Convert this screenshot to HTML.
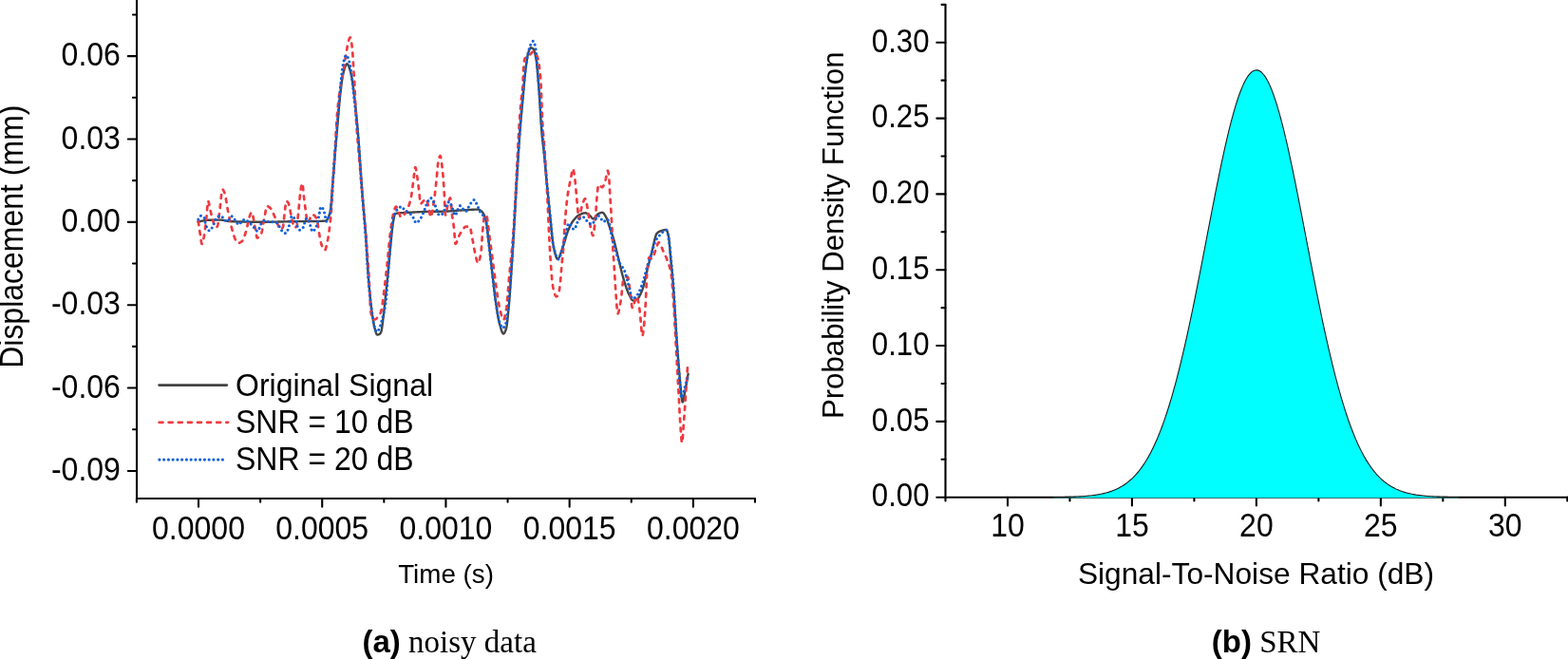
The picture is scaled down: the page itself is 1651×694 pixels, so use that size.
<!DOCTYPE html>
<html><head><meta charset="utf-8"><title>Figure</title>
<style>html,body{margin:0;padding:0;background:#fff;width:1651px;height:694px;overflow:hidden}svg{display:block}</style>
</head><body>
<svg width="1651" height="694" viewBox="0 0 1651 694">
<rect width="1651" height="694" fill="#fff"/>
<path d="M144.0 0 V525.0 M144.0 525.0 H795" stroke="#000" stroke-width="2.1" fill="none"/>
<path d="M134.8 59.13 H144.0 M134.8 146.49 H144.0 M134.8 233.85 H144.0 M134.8 321.21 H144.0 M134.8 408.57 H144.0 M134.8 495.93 H144.0 M140.0 15.45 H144.0 M140.0 102.81 H144.0 M140.0 190.17 H144.0 M140.0 277.53 H144.0 M140.0 364.89 H144.0 M140.0 452.25 H144.0 M209.00 525.0 V533.8 M339.22 525.0 V533.8 M469.44 525.0 V533.8 M599.66 525.0 V533.8 M729.88 525.0 V533.8 M143.89 525.0 V528.7 M274.11 525.0 V528.7 M404.33 525.0 V528.7 M534.55 525.0 V528.7 M664.77 525.0 V528.7 M794.99 525.0 V528.7" stroke="#000" stroke-width="2.1" fill="none" stroke-linecap="round"/>
<text transform="translate(126.90 69.38) scale(1 1.09)" text-anchor="end" style="font-family:'Liberation Sans',Arial,Helvetica,sans-serif;font-size:32px">0.06</text>
<text transform="translate(126.90 156.74) scale(1 1.09)" text-anchor="end" style="font-family:'Liberation Sans',Arial,Helvetica,sans-serif;font-size:32px">0.03</text>
<text transform="translate(126.90 244.10) scale(1 1.09)" text-anchor="end" style="font-family:'Liberation Sans',Arial,Helvetica,sans-serif;font-size:32px">0.00</text>
<text transform="translate(126.90 331.46) scale(1 1.09)" text-anchor="end" style="font-family:'Liberation Sans',Arial,Helvetica,sans-serif;font-size:32px">-0.03</text>
<text transform="translate(126.90 418.82) scale(1 1.09)" text-anchor="end" style="font-family:'Liberation Sans',Arial,Helvetica,sans-serif;font-size:32px">-0.06</text>
<text transform="translate(126.90 506.18) scale(1 1.09)" text-anchor="end" style="font-family:'Liberation Sans',Arial,Helvetica,sans-serif;font-size:32px">-0.09</text>
<text transform="translate(209.00 567.80) scale(1 1.09)" text-anchor="middle" style="font-family:'Liberation Sans',Arial,Helvetica,sans-serif;font-size:32px">0.0000</text>
<text transform="translate(339.22 567.80) scale(1 1.09)" text-anchor="middle" style="font-family:'Liberation Sans',Arial,Helvetica,sans-serif;font-size:32px">0.0005</text>
<text transform="translate(469.44 567.80) scale(1 1.09)" text-anchor="middle" style="font-family:'Liberation Sans',Arial,Helvetica,sans-serif;font-size:32px">0.0010</text>
<text transform="translate(599.66 567.80) scale(1 1.09)" text-anchor="middle" style="font-family:'Liberation Sans',Arial,Helvetica,sans-serif;font-size:32px">0.0015</text>
<text transform="translate(729.88 567.80) scale(1 1.09)" text-anchor="middle" style="font-family:'Liberation Sans',Arial,Helvetica,sans-serif;font-size:32px">0.0020</text>
<text transform="translate(24.30 249.20) rotate(-90) scale(1 1.07)" text-anchor="middle" style="font-family:'Liberation Sans',Arial,Helvetica,sans-serif;font-size:32px">Displacement (mm)</text>
<text transform="translate(469.60 613.90) scale(1 1.02)" text-anchor="middle" style="font-family:'Liberation Sans',Arial,Helvetica,sans-serif;font-size:27.8px">Time (s)</text>
<path d="M208.40 233.60L208.75 233.52L209.10 233.44L209.45 233.36L209.80 233.29L210.15 233.21L210.50 233.13L210.85 233.06L211.20 232.98L211.55 232.91L211.90 232.84L212.25 232.77L212.60 232.70L212.95 232.63L213.30 232.57L213.65 232.50L214.00 232.44L214.35 232.38L214.70 232.32L215.05 232.26L215.40 232.21L215.75 232.16L216.10 232.11L216.45 232.06L216.80 232.01L217.15 231.97L217.50 231.93L217.85 231.89L218.20 231.86L218.55 231.83L218.90 231.80L219.25 231.77L219.60 231.75L219.95 231.73L220.30 231.72L220.65 231.71L221.00 231.70L221.35 231.69L221.70 231.69L222.05 231.68L222.40 231.68L222.75 231.67L223.10 231.67L223.45 231.66L223.80 231.66L224.15 231.65L224.50 231.65L224.85 231.64L225.20 231.64L225.55 231.64L225.90 231.63L226.25 231.63L226.60 231.63L226.95 231.62L227.30 231.62L227.65 231.62L228.00 231.61L228.35 231.61L228.70 231.61L229.05 231.61L229.40 231.61L229.75 231.60L230.10 231.60L230.45 231.60L230.80 231.60L231.15 231.60L231.50 231.60L231.85 231.60L232.20 231.60L232.55 231.61L232.90 231.63L233.25 231.65L233.60 231.68L233.95 231.72L234.30 231.77L234.65 231.82L235.00 231.87L235.35 231.93L235.70 231.99L236.05 232.06L236.40 232.12L236.75 232.19L237.10 232.26L237.45 232.34L237.80 232.41L238.15 232.48L238.50 232.56L238.85 232.63L239.20 232.70L239.55 232.76L239.90 232.83L240.25 232.89L240.60 232.95L240.95 233.00L241.30 233.05L241.65 233.09L242.00 233.13L242.35 233.16L242.70 233.19L243.05 233.20L243.40 233.22L243.75 233.23L244.10 233.24L244.45 233.25L244.80 233.27L245.15 233.28L245.50 233.29L245.85 233.30L246.20 233.32L246.55 233.33L246.90 233.34L247.25 233.35L247.60 233.36L247.95 233.37L248.30 233.38L248.65 233.40L249.00 233.41L249.35 233.42L249.70 233.43L250.05 233.44L250.40 233.45L250.75 233.46L251.10 233.47L251.45 233.48L251.80 233.49L252.15 233.50L252.50 233.51L252.85 233.51L253.20 233.52L253.55 233.53L253.90 233.54L254.25 233.55L254.60 233.56L254.95 233.57L255.30 233.57L255.65 233.58L256.00 233.59L256.35 233.60L256.70 233.61L257.05 233.61L257.40 233.62L257.75 233.63L258.10 233.63L258.45 233.64L258.80 233.65L259.15 233.65L259.50 233.66L259.85 233.67L260.20 233.67L260.55 233.68L260.90 233.69L261.25 233.69L261.60 233.70L261.95 233.70L262.30 233.71L262.65 233.71L263.00 233.72L263.35 233.72L263.70 233.73L264.05 233.73L264.40 233.74L264.75 233.74L265.10 233.74L265.45 233.75L265.80 233.75L266.15 233.75L266.50 233.76L266.85 233.76L267.20 233.77L267.55 233.77L267.90 233.77L268.25 233.77L268.60 233.78L268.95 233.78L269.30 233.78L269.65 233.78L270.00 233.79L270.35 233.79L270.70 233.79L271.05 233.79L271.40 233.79L271.75 233.79L272.10 233.80L272.45 233.80L272.80 233.80L273.15 233.80L273.50 233.80L273.85 233.80L274.20 233.80L274.55 233.80L274.90 233.80L275.25 233.80L275.60 233.80L275.95 233.80L276.30 233.80L276.65 233.80L277.00 233.80L277.35 233.79L277.70 233.79L278.05 233.79L278.40 233.79L278.75 233.79L279.10 233.78L279.45 233.78L279.80 233.78L280.15 233.77L280.50 233.77L280.85 233.77L281.20 233.76L281.55 233.76L281.90 233.76L282.25 233.75L282.60 233.75L282.95 233.74L283.30 233.74L283.65 233.73L284.00 233.73L284.35 233.72L284.70 233.72L285.05 233.71L285.40 233.71L285.75 233.70L286.10 233.69L286.45 233.69L286.80 233.68L287.15 233.67L287.50 233.67L287.85 233.66L288.20 233.65L288.55 233.65L288.90 233.64L289.25 233.63L289.60 233.63L289.95 233.62L290.30 233.61L290.65 233.61L291.00 233.60L291.35 233.59L291.70 233.58L292.05 233.58L292.40 233.57L292.75 233.56L293.10 233.55L293.45 233.54L293.80 233.54L294.15 233.53L294.50 233.52L294.85 233.51L295.20 233.50L295.55 233.50L295.90 233.49L296.25 233.48L296.60 233.47L296.95 233.46L297.30 233.46L297.65 233.45L298.00 233.44L298.35 233.43L298.70 233.42L299.05 233.42L299.40 233.41L299.75 233.40L300.10 233.39L300.45 233.39L300.80 233.38L301.15 233.37L301.50 233.36L301.85 233.35L302.20 233.35L302.55 233.34L302.90 233.33L303.25 233.32L303.60 233.32L303.95 233.31L304.30 233.30L304.65 233.30L305.00 233.29L305.35 233.28L305.70 233.27L306.05 233.27L306.40 233.26L306.75 233.25L307.10 233.25L307.45 233.24L307.80 233.24L308.15 233.23L308.50 233.22L308.85 233.22L309.20 233.21L309.55 233.21L309.90 233.20L310.25 233.20L310.60 233.19L310.95 233.19L311.30 233.18L311.65 233.18L312.00 233.17L312.35 233.17L312.70 233.16L313.05 233.16L313.40 233.16L313.75 233.15L314.10 233.15L314.45 233.15L314.80 233.14L315.15 233.14L315.50 233.14L315.85 233.13L316.20 233.13L316.55 233.13L316.90 233.12L317.25 233.12L317.60 233.12L317.95 233.12L318.30 233.11L318.65 233.11L319.00 233.11L319.35 233.11L319.70 233.10L320.05 233.10L320.40 233.10L320.75 233.10L321.10 233.09L321.45 233.09L321.80 233.09L322.15 233.09L322.50 233.08L322.85 233.08L323.20 233.08L323.55 233.08L323.90 233.07L324.25 233.07L324.60 233.07L324.95 233.06L325.30 233.06L325.65 233.06L326.00 233.06L326.35 233.05L326.70 233.05L327.05 233.05L327.40 233.04L327.75 233.04L328.10 233.03L328.45 233.03L328.80 233.03L329.15 233.02L329.50 233.02L329.85 233.01L330.20 233.01L330.55 233.01L330.90 233.00L331.25 233.00L331.60 232.99L331.95 232.99L332.30 232.98L332.65 232.97L333.00 232.97L333.35 232.96L333.70 232.96L334.05 232.95L334.40 232.94L334.75 232.94L335.10 232.93L335.45 232.92L335.80 232.91L336.15 232.91L336.50 232.90L336.85 232.89L337.20 232.88L337.55 232.87L337.90 232.86L338.25 232.85L338.60 232.84L338.95 232.83L339.30 232.82L339.65 232.81L340.00 232.80L340.35 232.78L340.70 232.76L341.05 232.73L341.40 232.68L341.75 232.63L342.10 232.56L342.45 232.49L342.80 232.40L343.15 232.31L343.50 232.20L343.85 232.01L344.20 231.69L344.55 231.24L344.90 230.70L345.25 230.08L345.60 229.40L345.95 228.68L346.30 227.79L346.65 226.71L347.00 225.43L347.35 223.95L347.70 222.24L348.05 220.30L348.40 217.53L348.75 213.80L349.10 209.36L349.45 204.50L349.80 199.47L350.15 194.55L350.50 190.00L350.85 185.73L351.20 181.44L351.55 177.16L351.90 172.89L352.25 168.63L352.60 164.40L352.95 160.19L353.30 156.02L353.65 151.87L354.00 147.74L354.35 143.63L354.70 139.54L355.05 135.48L355.40 131.44L355.75 127.43L356.10 123.32L356.45 119.11L356.80 114.89L357.15 110.76L357.50 106.80L357.85 103.11L358.20 99.78L358.55 96.77L358.90 93.83L359.25 90.98L359.60 88.25L359.95 85.67L360.30 83.29L360.65 81.12L361.00 79.21L361.35 77.60L361.70 76.25L362.05 74.93L362.40 73.65L362.75 72.42L363.10 71.27L363.45 70.22L363.80 69.29L364.15 68.51L364.50 67.91L364.85 67.50L365.20 67.31L365.55 67.35L365.90 67.60L366.25 68.02L366.60 68.60L366.95 69.32L367.30 70.16L367.65 71.10L368.00 72.13L368.35 73.21L368.70 74.35L369.05 75.50L369.40 76.71L369.75 78.18L370.10 79.91L370.45 81.87L370.80 84.03L371.15 86.37L371.50 88.86L371.85 91.47L372.20 94.18L372.55 96.95L372.90 99.77L373.25 102.60L373.60 105.49L373.95 108.57L374.30 111.82L374.65 115.23L375.00 118.79L375.35 122.47L375.70 126.27L376.05 130.18L376.40 134.17L376.75 138.24L377.10 142.40L377.45 146.83L377.80 151.48L378.15 156.33L378.50 161.32L378.85 166.42L379.20 171.57L379.55 176.74L379.90 181.89L380.25 186.95L380.60 191.91L380.95 196.70L381.30 201.29L381.65 205.69L382.00 209.94L382.35 214.08L382.70 218.16L383.05 222.22L383.40 226.30L383.75 230.44L384.10 234.69L384.45 239.08L384.80 243.65L385.15 248.51L385.50 253.78L385.85 259.36L386.20 265.12L386.55 270.97L386.90 276.78L387.25 282.44L387.60 287.84L387.95 292.87L388.30 297.41L388.65 301.47L389.00 305.35L389.35 309.06L389.70 312.60L390.05 315.97L390.40 319.15L390.75 322.16L391.10 324.99L391.45 327.64L391.80 330.15L392.15 332.59L392.50 334.95L392.85 337.20L393.20 339.30L393.55 341.25L393.90 343.00L394.25 344.54L394.60 345.86L394.95 347.13L395.30 348.39L395.65 349.58L396.00 350.64L396.35 351.51L396.70 352.14L397.05 352.47L397.40 352.50L397.75 352.47L398.10 352.41L398.45 352.34L398.80 352.24L399.15 352.13L399.50 352.00L399.85 351.79L400.20 351.43L400.55 350.94L400.90 350.33L401.25 349.61L401.60 348.53L401.95 346.76L402.30 344.47L402.65 341.82L403.00 338.99L403.35 336.17L403.70 333.42L404.05 330.48L404.40 327.33L404.75 324.05L405.10 320.68L405.45 317.27L405.80 313.90L406.15 310.59L406.50 307.30L406.85 304.01L407.20 300.69L407.55 297.35L407.90 293.96L408.25 290.51L408.60 287.00L408.95 283.37L409.30 279.62L409.65 275.79L410.00 271.93L410.35 268.07L410.70 264.27L411.05 260.56L411.40 256.98L411.75 253.31L412.10 249.57L412.45 245.92L412.80 242.52L413.15 239.49L413.50 237.00L413.85 234.81L414.20 232.64L414.55 230.58L414.90 228.73L415.25 227.18L415.60 226.01L415.95 225.32L416.30 225.11L416.65 224.98L417.00 224.86L417.35 224.77L417.70 224.69L418.05 224.63L418.40 224.57L418.75 224.53L419.10 224.49L419.45 224.45L419.80 224.41L420.15 224.38L420.50 224.35L420.85 224.32L421.20 224.29L421.55 224.26L421.90 224.23L422.25 224.21L422.60 224.18L422.95 224.16L423.30 224.14L423.65 224.12L424.00 224.10L424.35 224.08L424.70 224.06L425.05 224.04L425.40 224.02L425.75 224.00L426.10 223.99L426.45 223.97L426.80 223.95L427.15 223.94L427.50 223.92L427.85 223.91L428.20 223.89L428.55 223.87L428.90 223.86L429.25 223.84L429.60 223.82L429.95 223.80L430.30 223.78L430.65 223.77L431.00 223.75L431.35 223.73L431.70 223.71L432.05 223.69L432.40 223.67L432.75 223.65L433.10 223.63L433.45 223.61L433.80 223.60L434.15 223.58L434.50 223.56L434.85 223.54L435.20 223.52L435.55 223.50L435.90 223.48L436.25 223.46L436.60 223.45L436.95 223.43L437.30 223.41L437.65 223.39L438.00 223.37L438.35 223.36L438.70 223.34L439.05 223.32L439.40 223.30L439.75 223.29L440.10 223.27L440.45 223.25L440.80 223.24L441.15 223.22L441.50 223.20L441.85 223.19L442.20 223.17L442.55 223.16L442.90 223.14L443.25 223.13L443.60 223.11L443.95 223.10L444.30 223.08L444.65 223.07L445.00 223.06L445.35 223.04L445.70 223.03L446.05 223.02L446.40 223.01L446.75 222.99L447.10 222.98L447.45 222.97L447.80 222.96L448.15 222.95L448.50 222.94L448.85 222.93L449.20 222.92L449.55 222.91L449.90 222.90L450.25 222.89L450.60 222.89L450.95 222.88L451.30 222.87L451.65 222.86L452.00 222.86L452.35 222.85L452.70 222.85L453.05 222.84L453.40 222.83L453.75 222.83L454.10 222.82L454.45 222.82L454.80 222.81L455.15 222.81L455.50 222.80L455.85 222.80L456.20 222.79L456.55 222.79L456.90 222.78L457.25 222.78L457.60 222.78L457.95 222.77L458.30 222.77L458.65 222.76L459.00 222.76L459.35 222.76L459.70 222.75L460.05 222.75L460.40 222.74L460.75 222.74L461.10 222.73L461.45 222.73L461.80 222.73L462.15 222.72L462.50 222.72L462.85 222.71L463.20 222.71L463.55 222.70L463.90 222.70L464.25 222.69L464.60 222.68L464.95 222.68L465.30 222.67L465.65 222.67L466.00 222.66L466.35 222.65L466.70 222.64L467.05 222.64L467.40 222.63L467.75 222.62L468.10 222.61L468.45 222.60L468.80 222.59L469.15 222.58L469.50 222.57L469.85 222.56L470.20 222.54L470.55 222.53L470.90 222.51L471.25 222.49L471.60 222.48L471.95 222.46L472.30 222.44L472.65 222.41L473.00 222.39L473.35 222.37L473.70 222.35L474.05 222.32L474.40 222.30L474.75 222.27L475.10 222.24L475.45 222.22L475.80 222.19L476.15 222.16L476.50 222.14L476.85 222.11L477.20 222.08L477.55 222.05L477.90 222.02L478.25 221.99L478.60 221.97L478.95 221.94L479.30 221.91L479.65 221.88L480.00 221.85L480.35 221.83L480.70 221.80L481.05 221.77L481.40 221.74L481.75 221.72L482.10 221.69L482.45 221.67L482.80 221.64L483.15 221.62L483.50 221.59L483.85 221.57L484.20 221.55L484.55 221.53L484.90 221.51L485.25 221.49L485.60 221.47L485.95 221.44L486.30 221.42L486.65 221.40L487.00 221.38L487.35 221.36L487.70 221.34L488.05 221.31L488.40 221.29L488.75 221.27L489.10 221.25L489.45 221.22L489.80 221.20L490.15 221.18L490.50 221.16L490.85 221.13L491.20 221.11L491.55 221.09L491.90 221.06L492.25 221.04L492.60 221.02L492.95 221.00L493.30 220.98L493.65 220.95L494.00 220.93L494.35 220.91L494.70 220.89L495.05 220.87L495.40 220.85L495.75 220.83L496.10 220.82L496.45 220.80L496.80 220.78L497.15 220.76L497.50 220.75L497.85 220.73L498.20 220.72L498.55 220.70L498.90 220.69L499.25 220.68L499.60 220.67L499.95 220.66L500.30 220.65L500.65 220.64L501.00 220.63L501.35 220.62L501.70 220.61L502.05 220.61L502.40 220.61L502.75 220.60L503.10 220.60L503.45 220.60L503.80 220.62L504.15 220.69L504.50 220.80L504.85 220.95L505.20 221.15L505.55 221.37L505.90 221.62L506.25 221.89L506.60 222.19L506.95 222.50L507.30 222.81L507.65 223.15L508.00 223.53L508.35 223.98L508.70 224.50L509.05 225.09L509.40 225.75L509.75 226.49L510.10 227.30L510.45 228.18L510.80 229.15L511.15 230.20L511.50 231.35L511.85 232.95L512.20 235.02L512.55 237.49L512.90 240.25L513.25 243.21L513.60 246.28L513.95 249.36L514.30 252.36L514.65 255.21L515.00 258.12L515.35 261.12L515.70 264.19L516.05 267.32L516.40 270.49L516.75 273.67L517.10 276.85L517.45 280.01L517.80 283.14L518.15 286.20L518.50 289.20L518.85 292.17L519.20 295.18L519.55 298.19L519.90 301.20L520.25 304.18L520.60 307.10L520.95 309.96L521.30 312.74L521.65 315.40L522.00 317.94L522.35 320.33L522.70 322.67L523.05 324.99L523.40 327.27L523.75 329.50L524.10 331.64L524.45 333.69L524.80 335.61L525.15 337.40L525.50 339.01L525.85 340.45L526.20 341.72L526.55 342.98L526.90 344.24L527.25 345.48L527.60 346.66L527.95 347.77L528.30 348.78L528.65 349.67L529.00 350.41L529.35 350.97L529.70 351.34L530.05 351.50L530.40 351.42L530.75 351.15L531.10 350.69L531.45 350.08L531.80 349.33L532.15 348.46L532.50 347.50L532.85 346.46L533.20 345.25L533.55 343.40L533.90 340.94L534.25 337.99L534.60 334.67L534.95 331.09L535.30 327.36L535.65 323.59L536.00 319.81L536.35 315.66L536.70 311.14L537.05 306.34L537.40 301.33L537.75 296.17L538.10 290.95L538.45 285.74L538.80 280.51L539.15 275.13L539.50 269.62L539.85 264.01L540.20 258.31L540.55 252.53L540.90 246.70L541.25 240.84L541.60 234.89L541.95 228.76L542.30 222.51L542.65 216.20L543.00 209.89L543.35 203.63L543.70 197.48L544.05 191.50L544.40 185.69L544.75 179.90L545.10 174.13L545.45 168.42L545.80 162.80L546.15 157.31L546.50 151.98L546.85 146.86L547.20 141.97L547.55 137.35L547.90 132.96L548.25 128.75L548.60 124.69L548.95 120.76L549.30 116.92L549.65 113.13L550.00 109.38L550.35 105.62L550.70 101.81L551.05 97.92L551.40 93.98L551.75 90.06L552.10 86.22L552.45 82.51L552.80 79.00L553.15 75.73L553.50 72.78L553.85 70.10L554.20 67.47L554.55 64.93L554.90 62.54L555.25 60.35L555.60 58.41L555.95 56.78L556.30 55.50L556.65 54.42L557.00 53.39L557.35 52.43L557.70 51.60L558.05 50.94L558.40 50.49L558.75 50.30L559.10 50.32L559.45 50.38L559.80 50.49L560.15 50.64L560.50 50.82L560.85 51.03L561.20 51.27L561.55 51.54L561.90 52.01L562.25 52.75L562.60 53.73L562.95 54.93L563.30 56.31L563.65 57.85L564.00 59.50L564.35 61.26L564.70 63.46L565.05 66.26L565.40 69.54L565.75 73.23L566.10 77.23L566.45 81.45L566.80 85.78L567.15 90.15L567.50 94.58L567.85 99.61L568.20 105.12L568.55 110.94L568.90 116.88L569.25 122.75L569.60 128.37L569.95 133.56L570.30 138.13L570.65 142.01L571.00 145.47L571.35 148.64L571.70 151.62L572.05 154.53L572.40 157.49L572.75 160.61L573.10 164.00L573.45 167.61L573.80 171.37L574.15 175.23L574.50 179.12L574.85 183.00L575.20 186.82L575.55 190.52L575.90 194.15L576.25 197.76L576.60 201.34L576.95 204.89L577.30 208.42L577.65 211.92L578.00 215.39L578.35 218.83L578.70 222.24L579.05 225.61L579.40 228.96L579.75 232.45L580.10 236.08L580.45 239.75L580.80 243.40L581.15 246.92L581.50 250.24L581.85 253.27L582.20 255.92L582.55 258.12L582.90 259.87L583.25 261.56L583.60 263.21L583.95 264.80L584.30 266.31L584.65 267.71L585.00 268.99L585.35 270.13L585.70 271.09L586.05 271.86L586.40 272.41L586.75 272.73L587.10 272.79L587.45 272.66L587.80 272.37L588.15 271.93L588.50 271.37L588.85 270.70L589.20 269.93L589.55 269.08L589.90 268.17L590.25 267.20L590.60 266.20L590.95 265.18L591.30 264.16L591.65 263.15L592.00 262.17L592.35 261.23L592.70 260.29L593.05 259.28L593.40 258.20L593.75 257.06L594.10 255.88L594.45 254.66L594.80 253.43L595.15 252.19L595.50 250.95L595.85 249.74L596.20 248.55L596.55 247.40L596.90 246.30L597.25 245.26L597.60 244.31L597.95 243.43L598.30 242.58L598.65 241.75L599.00 240.93L599.35 240.13L599.70 239.35L600.05 238.59L600.40 237.85L600.75 237.14L601.10 236.46L601.45 235.80L601.80 235.17L602.15 234.58L602.50 234.02L602.85 233.49L603.20 233.00L603.55 232.53L603.90 232.07L604.25 231.62L604.60 231.18L604.95 230.76L605.30 230.34L605.65 229.94L606.00 229.55L606.35 229.17L606.70 228.81L607.05 228.47L607.40 228.14L607.75 227.84L608.10 227.55L608.45 227.28L608.80 227.03L609.15 226.81L609.50 226.61L609.85 226.42L610.20 226.25L610.55 226.07L610.90 225.90L611.25 225.73L611.60 225.56L611.95 225.41L612.30 225.25L612.65 225.11L613.00 224.97L613.35 224.84L613.70 224.73L614.05 224.62L614.40 224.53L614.75 224.45L615.10 224.39L615.45 224.34L615.80 224.31L616.15 224.30L616.50 224.32L616.85 224.38L617.20 224.48L617.55 224.62L617.90 224.79L618.25 224.99L618.60 225.20L618.95 225.43L619.30 225.67L619.65 225.92L620.00 226.16L620.35 226.40L620.70 226.64L621.05 226.95L621.40 227.31L621.75 227.70L622.10 228.13L622.45 228.56L622.80 228.98L623.15 229.38L623.50 229.74L623.85 230.05L624.20 230.29L624.55 230.44L624.90 230.50L625.25 230.43L625.60 230.24L625.95 229.94L626.30 229.56L626.65 229.11L627.00 228.61L627.35 228.09L627.70 227.57L628.05 227.05L628.40 226.57L628.75 226.15L629.10 225.79L629.45 225.53L629.80 225.33L630.15 225.14L630.50 224.96L630.85 224.77L631.20 224.60L631.55 224.44L631.90 224.29L632.25 224.16L632.60 224.04L632.95 223.95L633.30 223.87L633.65 223.82L634.00 223.80L634.35 223.83L634.70 223.96L635.05 224.18L635.40 224.49L635.75 224.87L636.10 225.32L636.45 225.81L636.80 226.34L637.15 226.90L637.50 227.47L637.85 228.05L638.20 228.65L638.55 229.37L638.90 230.21L639.25 231.15L639.60 232.16L639.95 233.23L640.30 234.33L640.65 235.45L641.00 236.57L641.35 237.66L641.70 238.71L642.05 239.71L642.40 240.69L642.75 241.65L643.10 242.62L643.45 243.58L643.80 244.56L644.15 245.55L644.50 246.56L644.85 247.60L645.20 248.68L645.55 249.80L645.90 250.98L646.25 252.21L646.60 253.50L646.95 254.83L647.30 256.21L647.65 257.62L648.00 259.05L648.35 260.50L648.70 261.97L649.05 263.43L649.40 264.90L649.75 266.35L650.10 267.79L650.45 269.20L650.80 270.62L651.15 272.07L651.50 273.53L651.85 275.01L652.20 276.50L652.55 277.99L652.90 279.49L653.25 280.97L653.60 282.45L653.95 283.90L654.30 285.34L654.65 286.75L655.00 288.12L655.35 289.46L655.70 290.76L656.05 292.01L656.40 293.20L656.75 294.37L657.10 295.53L657.45 296.68L657.80 297.83L658.15 298.96L658.50 300.07L658.85 301.16L659.20 302.23L659.55 303.27L659.90 304.28L660.25 305.26L660.60 306.20L660.95 307.10L661.30 307.95L661.65 308.76L662.00 309.51L662.35 310.22L662.70 310.88L663.05 311.55L663.40 312.23L663.75 312.91L664.10 313.58L664.45 314.21L664.80 314.79L665.15 315.32L665.50 315.77L665.85 316.14L666.20 316.41L666.55 316.57L666.90 316.60L667.25 316.57L667.60 316.52L667.95 316.43L668.30 316.32L668.65 316.19L669.00 316.04L669.35 315.86L669.70 315.67L670.05 315.47L670.40 315.26L670.75 315.03L671.10 314.80L671.45 314.53L671.80 314.18L672.15 313.77L672.50 313.30L672.85 312.76L673.20 312.17L673.55 311.53L673.90 310.85L674.25 310.12L674.60 309.36L674.95 308.57L675.30 307.75L675.65 306.91L676.00 306.05L676.35 305.17L676.70 304.21L677.05 303.13L677.40 301.93L677.75 300.64L678.10 299.27L678.45 297.84L678.80 296.35L679.15 294.82L679.50 293.27L679.85 291.70L680.20 290.14L680.55 288.60L680.90 287.08L681.25 285.61L681.60 284.20L681.95 282.80L682.30 281.39L682.65 279.98L683.00 278.56L683.35 277.14L683.70 275.72L684.05 274.31L684.40 272.90L684.75 271.49L685.10 270.09L685.45 268.69L685.80 267.31L686.15 265.93L686.50 264.57L686.85 263.21L687.20 261.77L687.55 260.25L687.90 258.68L688.25 257.09L688.60 255.50L688.95 253.94L689.30 252.44L689.65 251.02L690.00 249.71L690.35 248.54L690.70 247.53L691.05 246.72L691.40 246.13L691.75 245.72L692.10 245.36L692.45 245.03L692.80 244.74L693.15 244.47L693.50 244.24L693.85 244.03L694.20 243.84L694.55 243.68L694.90 243.54L695.25 243.41L695.60 243.28L695.95 243.16L696.30 243.04L696.65 242.93L697.00 242.82L697.35 242.71L697.70 242.61L698.05 242.51L698.40 242.42L698.75 242.34L699.10 242.27L699.45 242.20L699.80 242.14L700.15 242.09L700.50 242.06L700.85 242.03L701.20 242.01L701.55 242.00L701.90 242.15L702.25 242.69L702.60 243.54L702.95 244.64L703.30 245.94L703.65 247.37L704.00 249.03L704.35 251.60L704.70 254.94L705.05 258.79L705.40 262.91L705.75 267.05L706.10 270.96L706.45 274.52L706.80 277.97L707.15 281.40L707.50 284.88L707.85 288.49L708.20 292.30L708.55 296.39L708.90 300.88L709.25 305.83L709.60 311.09L709.95 316.51L710.30 321.94L710.65 327.29L711.00 332.79L711.35 338.43L711.70 344.10L712.05 349.73L712.40 355.21L712.75 360.45L713.10 365.38L713.45 370.15L713.80 374.82L714.15 379.34L714.50 383.71L714.85 387.88L715.20 391.82L715.55 395.52L715.90 399.33L716.25 403.34L716.60 407.41L716.95 411.35L717.30 415.01L717.65 418.21L718.00 420.80L718.35 422.60L718.70 423.45L719.05 423.30L719.40 422.45L719.75 421.04L720.10 419.24L720.45 417.18L720.80 415.02L721.15 412.91L721.50 411.00L721.85 409.21L722.20 407.38L722.55 405.50L722.90 403.59L723.25 401.63L723.60 399.63L723.95 397.59L724.30 395.51L724.60 393.70" stroke="#444" stroke-width="2.4" fill="none" stroke-linejoin="round" stroke-linecap="round"/>
<path d="M208.80 233.20L209.15 235.71L209.50 238.16L209.85 240.54L210.20 242.86L210.55 245.11L210.90 247.30L211.25 249.72L211.60 252.37L211.95 254.77L212.30 256.47L212.65 256.99L213.00 256.58L213.35 255.64L213.70 254.30L214.05 252.70L214.40 250.97L214.75 249.26L215.10 247.33L215.45 245.07L215.80 242.52L216.15 239.75L216.50 236.81L216.85 233.76L217.20 230.67L217.55 227.42L217.90 223.09L218.25 218.38L218.60 214.29L218.95 211.87L219.30 211.75L219.65 212.65L220.00 214.14L220.35 215.96L220.70 217.89L221.05 219.65L221.40 221.11L221.75 222.54L222.10 223.98L222.45 225.42L222.80 226.84L223.15 228.24L223.50 229.60L223.85 230.91L224.20 232.17L224.55 233.37L224.90 234.66L225.25 236.04L225.60 237.35L225.95 238.45L226.30 239.18L226.65 239.40L227.00 239.37L227.35 239.30L227.70 239.18L228.05 239.03L228.40 238.85L228.75 238.63L229.10 238.03L229.45 236.53L229.80 234.34L230.15 231.66L230.50 228.67L230.85 225.59L231.20 222.62L231.55 219.93L231.90 216.97L232.25 213.56L232.60 209.97L232.95 206.51L233.30 203.45L233.65 201.09L234.00 199.73L234.35 199.52L234.70 199.76L235.05 200.19L235.40 200.79L235.75 201.51L236.10 202.30L236.45 203.12L236.80 204.19L237.15 205.60L237.50 207.29L237.85 209.20L238.20 211.26L238.55 213.41L238.90 215.59L239.25 217.73L239.60 219.77L239.95 221.66L240.30 223.36L240.65 225.05L241.00 226.73L241.35 228.40L241.70 230.07L242.05 231.71L242.40 233.32L242.75 234.90L243.10 236.44L243.45 237.93L243.80 239.38L244.15 240.76L244.50 242.08L244.85 243.33L245.20 244.53L245.55 245.72L245.90 246.89L246.25 248.02L246.60 249.09L246.95 250.10L247.30 251.01L247.65 251.83L248.00 252.52L248.35 253.13L248.70 253.73L249.05 254.31L249.40 254.85L249.75 255.31L250.10 255.68L250.45 255.91L250.80 256.00L251.15 255.98L251.50 255.93L251.85 255.84L252.20 255.72L252.55 255.57L252.90 255.39L253.25 255.19L253.60 254.97L253.95 254.72L254.30 254.46L254.65 254.18L255.00 253.89L255.35 253.54L255.70 253.03L256.05 252.38L256.40 251.59L256.75 250.71L257.10 249.73L257.45 248.69L257.80 247.60L258.15 246.48L258.50 245.36L258.85 244.26L259.20 243.10L259.55 241.79L259.90 240.34L260.25 238.80L260.60 237.21L260.95 235.58L261.30 233.97L261.65 232.39L262.00 230.89L262.35 229.51L262.70 228.26L263.05 227.19L263.40 226.29L263.75 225.36L264.10 224.51L264.45 223.85L264.80 223.52L265.15 223.64L265.50 224.26L265.85 225.31L266.20 226.72L266.55 228.40L266.90 230.27L267.25 232.27L267.60 234.31L267.95 236.32L268.30 238.22L268.65 239.94L269.00 241.89L269.35 244.13L269.70 246.38L270.05 248.37L270.40 249.84L270.75 250.49L271.10 250.47L271.45 250.38L271.80 250.23L272.15 250.01L272.50 249.74L272.85 249.43L273.20 249.07L273.55 248.67L273.90 248.24L274.25 247.78L274.60 247.30L274.95 246.62L275.30 245.62L275.65 244.32L276.00 242.79L276.35 241.05L276.70 239.17L277.05 237.19L277.40 235.14L277.75 233.08L278.10 231.06L278.45 229.11L278.80 227.29L279.15 225.45L279.50 223.26L279.85 221.00L280.20 218.99L280.55 217.55L280.90 217.00L281.25 217.03L281.60 217.10L281.95 217.23L282.30 217.39L282.65 217.59L283.00 217.82L283.35 218.07L283.70 218.35L284.05 218.64L284.40 218.94L284.75 219.24L285.10 219.62L285.45 220.08L285.80 220.63L286.15 221.26L286.50 221.94L286.85 222.67L287.20 223.45L287.55 224.25L287.90 225.06L288.25 225.88L288.60 226.70L288.95 227.50L289.30 228.27L289.65 229.00L290.00 229.78L290.35 230.62L290.70 231.53L291.05 232.48L291.40 233.46L291.75 234.45L292.10 235.43L292.45 236.39L292.80 237.31L293.15 238.18L293.50 238.98L293.85 239.69L294.20 240.30L294.55 240.79L294.90 241.15L295.25 241.36L295.60 241.40L295.95 241.32L296.30 241.15L296.65 240.90L297.00 240.56L297.35 240.16L297.70 239.70L298.05 238.52L298.40 236.20L298.75 233.13L299.10 229.68L299.45 226.23L299.80 223.16L300.15 220.40L300.50 217.29L300.85 214.36L301.20 212.27L301.55 211.60L301.90 211.71L302.25 211.96L302.60 212.34L302.95 212.80L303.30 213.32L303.65 213.88L304.00 214.71L304.35 215.89L304.70 217.36L305.05 219.06L305.40 220.90L305.75 222.84L306.10 224.79L306.45 226.70L306.80 228.49L307.15 230.10L307.50 231.48L307.85 232.90L308.20 234.39L308.55 235.86L308.90 237.21L309.25 238.36L309.60 239.20L309.95 239.65L310.30 239.69L310.65 239.63L311.00 239.50L311.35 239.33L311.70 239.10L312.05 238.82L312.40 238.44L312.75 237.01L313.10 234.46L313.45 231.16L313.80 227.46L314.15 223.72L314.50 220.30L314.85 216.87L315.20 213.06L315.55 209.20L315.90 205.57L316.25 202.49L316.60 200.22L316.95 198.19L317.30 196.27L317.65 194.65L318.00 193.51L318.35 193.01L318.70 194.13L319.05 197.46L319.40 201.60L319.75 205.13L320.10 208.08L320.45 211.00L320.80 213.86L321.15 216.68L321.50 219.43L321.85 222.13L322.20 224.76L322.55 227.57L322.90 230.76L323.25 233.40L323.60 234.50L323.95 234.37L324.30 234.02L324.65 233.51L325.00 232.92L325.35 232.31L325.70 231.73L326.05 231.02L326.40 230.14L326.75 229.20L327.10 228.25L327.45 227.38L327.80 226.66L328.15 226.18L328.50 226.00L328.85 226.02L329.20 226.09L329.55 226.20L329.90 226.34L330.25 226.51L330.60 226.69L330.95 226.89L331.30 227.17L331.65 227.54L332.00 227.99L332.35 228.53L332.70 229.15L333.05 229.84L333.40 230.60L333.75 231.67L334.10 233.21L334.45 235.11L334.80 237.29L335.15 239.62L335.50 242.02L335.85 244.37L336.20 246.58L336.55 248.55L336.90 250.34L337.25 252.18L337.60 253.97L337.95 255.61L338.30 256.99L338.65 258.03L339.00 258.90L339.35 259.75L339.70 260.55L340.05 261.29L340.40 261.95L340.75 262.52L341.10 262.97L341.45 263.30L341.80 263.47L342.15 263.46L342.50 263.07L342.85 262.31L343.20 261.25L343.55 259.94L343.90 258.44L344.25 256.81L344.60 255.12L344.95 253.42L345.30 251.69L345.65 249.64L346.00 247.30L346.35 244.74L346.70 242.05L347.05 239.31L347.40 236.53L347.75 233.59L348.10 230.33L348.45 226.58L348.80 221.91L349.15 216.08L349.50 209.59L349.85 202.95L350.20 196.66L350.55 191.01L350.90 185.61L351.25 180.34L351.60 175.14L351.95 169.93L352.30 164.65L352.65 159.21L353.00 153.40L353.35 147.26L353.70 141.02L354.05 134.90L354.40 129.09L354.75 123.82L355.10 119.30L355.45 115.39L355.80 111.80L356.15 108.48L356.50 105.42L356.85 102.58L357.20 99.93L357.55 97.45L357.90 95.16L358.25 93.02L358.60 90.99L358.95 89.06L359.30 87.18L359.65 85.33L360.00 83.46L360.35 81.56L360.70 79.58L361.05 77.53L361.40 75.45L361.75 73.37L362.10 71.27L362.45 69.17L362.80 67.07L363.15 64.96L363.50 62.86L363.85 60.77L364.20 58.69L364.55 56.59L364.90 54.32L365.25 51.96L365.60 49.63L365.95 47.47L366.30 45.61L366.65 44.16L367.00 43.05L367.35 41.97L367.70 40.99L368.05 40.20L368.40 39.64L368.75 39.40L369.10 39.73L369.45 40.85L369.80 42.65L370.15 44.98L370.50 47.70L370.85 50.68L371.20 54.22L371.55 59.74L371.90 66.24L372.25 72.42L372.60 77.39L372.95 82.02L373.30 87.60L373.65 95.85L374.00 104.90L374.35 113.01L374.70 120.39L375.05 126.34L375.40 131.66L375.75 136.53L376.10 141.05L376.45 145.35L376.80 149.53L377.15 153.71L377.50 158.00L377.85 162.34L378.20 166.61L378.55 170.82L378.90 174.97L379.25 179.08L379.60 183.15L379.95 187.20L380.30 191.22L380.65 195.24L381.00 199.25L381.35 203.27L381.70 207.29L382.05 211.23L382.40 215.11L382.75 218.95L383.10 222.77L383.45 226.60L383.80 230.47L384.15 234.39L384.50 238.40L384.85 242.51L385.20 246.76L385.55 251.12L385.90 255.49L386.25 259.91L386.60 264.40L386.95 269.01L387.30 273.77L387.65 278.72L388.00 283.88L388.35 289.30L388.70 295.00L389.05 301.96L389.40 310.10L389.75 317.91L390.10 323.86L390.45 327.43L390.80 330.54L391.15 333.09L391.50 334.83L391.85 335.54L392.20 335.78L392.55 335.99L392.90 336.16L393.25 336.29L393.60 336.39L393.95 336.46L394.30 336.49L394.65 336.49L395.00 336.41L395.35 336.24L395.70 336.00L396.05 335.71L396.40 335.36L396.75 334.98L397.10 334.58L397.45 334.16L397.80 333.74L398.15 333.32L398.50 332.90L398.85 332.47L399.20 332.00L399.55 331.48L399.90 330.91L400.25 330.27L400.60 329.55L400.95 328.74L401.30 327.82L401.65 326.78L402.00 325.44L402.35 323.17L402.70 320.29L403.05 317.24L403.40 314.43L403.75 311.71L404.10 308.96L404.45 306.18L404.80 303.35L405.15 300.47L405.50 297.55L405.85 294.57L406.20 291.53L406.55 288.42L406.90 285.26L407.25 282.04L407.60 278.78L407.95 275.47L408.30 272.06L408.65 268.45L409.00 264.72L409.35 260.95L409.70 257.22L410.05 253.61L410.40 250.19L410.75 247.04L411.10 244.23L411.45 241.54L411.80 238.93L412.15 236.41L412.50 234.02L412.85 231.79L413.20 229.76L413.55 227.95L413.90 226.39L414.25 225.04L414.60 223.69L414.95 222.38L415.30 221.14L415.65 220.02L416.00 219.06L416.35 218.31L416.70 217.81L417.05 217.60L417.40 217.73L417.75 218.18L418.10 218.87L418.45 219.74L418.80 220.72L419.15 221.75L419.50 222.75L419.85 223.66L420.20 224.47L420.55 225.41L420.90 226.40L421.25 227.33L421.60 228.10L421.95 228.59L422.30 228.70L422.65 228.62L423.00 228.47L423.35 228.24L423.70 227.96L424.05 227.63L424.40 227.26L424.75 226.87L425.10 226.46L425.45 226.06L425.80 225.65L426.15 225.20L426.50 224.72L426.85 224.20L427.20 223.65L427.55 223.05L427.90 222.42L428.25 221.74L428.60 221.02L428.95 220.26L429.30 219.45L429.65 218.60L430.00 217.70L430.35 216.75L430.70 215.75L431.05 214.69L431.40 213.59L431.75 212.43L432.10 211.22L432.45 209.91L432.80 208.22L433.15 206.16L433.50 203.80L433.85 201.25L434.20 198.57L434.55 195.85L434.90 193.19L435.25 190.65L435.60 187.95L435.95 184.76L436.30 181.53L436.65 178.72L437.00 176.79L437.35 176.21L437.70 176.86L438.05 178.32L438.40 180.35L438.75 182.67L439.10 185.03L439.45 187.24L439.80 189.64L440.15 192.27L440.50 195.06L440.85 197.94L441.20 200.85L441.55 203.87L441.90 207.72L442.25 211.54L442.60 214.13L442.95 214.58L443.30 214.43L443.65 214.16L444.00 213.79L444.35 213.36L444.70 212.91L445.05 212.48L445.40 212.09L445.75 211.76L446.10 211.38L446.45 210.98L446.80 210.58L447.15 210.21L447.50 209.90L447.85 209.66L448.20 209.52L448.55 209.54L448.90 209.91L449.25 210.63L449.60 211.62L449.95 212.82L450.30 214.16L450.65 215.59L451.00 217.02L451.35 218.41L451.70 219.99L452.05 222.07L452.40 224.32L452.75 226.40L453.10 227.97L453.45 228.69L453.80 228.47L454.15 227.66L454.50 226.37L454.85 224.69L455.20 222.73L455.55 220.58L455.90 218.35L456.25 216.13L456.60 213.99L456.95 211.71L457.30 209.19L457.65 206.48L458.00 203.61L458.35 200.61L458.70 197.52L459.05 194.37L459.40 191.20L459.75 187.83L460.10 183.89L460.45 179.75L460.80 175.81L461.15 172.49L461.50 170.20L461.85 168.59L462.20 167.10L462.55 165.81L462.90 164.83L463.25 164.23L463.60 164.14L463.95 164.94L464.30 166.55L464.65 168.78L465.00 171.40L465.35 174.21L465.70 177.01L466.05 180.27L466.40 184.11L466.75 188.44L467.10 193.16L467.45 198.18L467.80 204.05L468.15 212.41L468.50 220.74L468.85 226.07L469.20 226.56L469.55 225.70L469.90 224.25L470.25 222.43L470.60 220.43L470.95 218.48L471.30 216.78L471.65 215.47L472.00 214.15L472.35 212.79L472.70 211.48L473.05 210.31L473.40 209.36L473.75 208.73L474.10 208.50L474.45 209.58L474.80 212.36L475.15 216.20L475.50 220.43L475.85 224.40L476.20 227.48L476.55 229.97L476.90 232.25L477.25 234.48L477.60 236.85L477.95 239.52L478.30 242.99L478.65 248.10L479.00 253.22L479.35 256.51L479.70 256.85L480.05 256.55L480.40 256.02L480.75 255.30L481.10 254.43L481.45 253.47L481.80 252.46L482.15 251.44L482.50 250.46L482.85 249.56L483.20 248.80L483.55 248.12L483.90 247.43L484.25 246.75L484.60 246.08L484.95 245.42L485.30 244.77L485.65 244.15L486.00 243.56L486.35 243.00L486.70 242.48L487.05 241.99L487.40 241.54L487.75 241.08L488.10 240.62L488.45 240.18L488.80 239.77L489.15 239.41L489.50 239.11L489.85 238.91L490.20 238.80L490.55 238.75L490.90 238.71L491.25 238.67L491.60 238.64L491.95 238.61L492.30 238.58L492.65 238.56L493.00 238.54L493.35 238.52L493.70 238.51L494.05 238.50L494.40 238.50L494.75 238.68L495.10 239.47L495.45 240.78L495.80 242.47L496.15 244.41L496.50 246.46L496.85 248.51L497.20 250.40L497.55 252.16L497.90 254.04L498.25 256.02L498.60 258.05L498.95 260.08L499.30 262.06L499.65 263.94L500.00 265.67L500.35 267.21L500.70 268.73L501.05 270.32L501.40 271.90L501.75 273.40L502.10 274.74L502.45 275.84L502.80 276.64L503.15 277.06L503.50 277.04L503.85 276.66L504.20 275.96L504.55 274.97L504.90 273.73L505.25 272.28L505.60 270.65L505.95 268.88L506.30 267.00L506.65 264.17L507.00 259.93L507.35 254.88L507.70 249.61L508.05 244.72L508.40 240.80L508.75 237.45L509.10 234.09L509.45 231.09L509.80 228.79L510.15 227.57L510.50 227.21L510.85 226.93L511.20 226.71L511.55 226.57L511.90 226.50L512.25 226.72L512.60 227.72L512.95 229.38L513.30 231.59L513.65 234.19L514.00 237.07L514.35 240.09L514.70 243.10L515.05 245.99L515.40 248.60L515.75 251.07L516.10 253.62L516.45 256.22L516.80 258.87L517.15 261.55L517.50 264.27L517.85 267.00L518.20 269.74L518.55 272.48L518.90 275.20L519.25 277.90L519.60 280.57L519.95 283.19L520.30 285.76L520.65 288.28L521.00 290.84L521.35 293.45L521.70 296.10L522.05 298.76L522.40 301.41L522.75 304.04L523.10 306.62L523.45 309.14L523.80 311.58L524.15 313.91L524.50 316.13L524.85 318.21L525.20 320.13L525.55 321.87L525.90 323.43L526.25 324.97L526.60 326.53L526.95 328.09L527.30 329.60L527.65 331.05L528.00 332.40L528.35 333.62L528.70 334.69L529.05 335.57L529.40 336.23L529.75 336.65L530.10 336.80L530.45 336.57L530.80 335.93L531.15 334.92L531.50 333.61L531.85 332.07L532.20 330.33L532.55 328.48L532.90 326.55L533.25 324.40L533.60 321.51L533.95 318.00L534.30 314.01L534.65 309.72L535.00 305.26L535.35 300.79L535.70 296.47L536.05 292.44L536.40 288.75L536.75 285.21L537.10 281.79L537.45 278.43L537.80 275.11L538.15 271.76L538.50 268.36L538.85 264.85L539.20 261.19L539.55 257.33L539.90 253.24L540.25 248.87L540.60 244.13L540.95 238.84L541.30 233.06L541.65 226.90L542.00 220.45L542.35 213.82L542.70 207.11L543.05 200.42L543.40 193.84L543.75 187.32L544.10 180.50L544.45 173.49L544.80 166.41L545.15 159.38L545.50 152.52L545.85 145.96L546.20 139.83L546.55 134.23L546.90 128.99L547.25 123.98L547.60 119.20L547.95 114.69L548.30 110.47L548.65 106.57L549.00 103.13L549.35 100.46L549.70 98.01L550.05 95.13L550.40 91.20L550.75 83.06L551.10 73.76L551.45 69.02L551.80 65.36L552.15 62.85L552.50 61.85L552.85 61.41L553.20 61.08L553.55 60.84L553.90 60.64L554.25 60.47L554.60 60.27L554.95 60.04L555.30 59.76L555.65 59.47L556.00 59.18L556.35 58.89L556.70 58.60L557.05 58.30L557.40 58.01L557.75 57.71L558.10 57.41L558.45 57.08L558.80 56.70L559.15 56.30L559.50 55.91L559.85 55.52L560.20 55.18L560.55 54.88L560.90 54.66L561.25 54.53L561.60 54.50L561.95 54.58L562.30 54.73L562.65 54.96L563.00 55.25L563.35 55.60L563.70 55.99L564.05 56.42L564.40 56.87L564.75 57.37L565.10 58.03L565.45 58.85L565.80 59.83L566.15 60.95L566.50 62.23L566.85 63.64L567.20 65.20L567.55 67.27L567.90 70.03L568.25 73.22L568.60 76.56L568.95 80.15L569.30 84.53L569.65 90.70L570.00 99.18L570.35 108.03L570.70 116.55L571.05 125.30L571.40 132.80L571.75 138.06L572.10 142.13L572.45 145.72L572.80 149.50L573.15 154.04L573.50 159.00L573.85 164.23L574.20 169.72L574.55 175.44L574.90 181.36L575.25 187.48L575.60 193.78L575.95 200.22L576.30 206.82L576.65 214.03L577.00 221.77L577.35 229.72L577.70 237.59L578.05 245.07L578.40 251.88L578.75 258.37L579.10 264.62L579.45 270.51L579.80 275.95L580.15 280.86L580.50 285.58L580.85 290.03L581.20 294.01L581.55 297.33L581.90 299.92L582.25 302.22L582.60 304.25L582.95 305.98L583.30 307.37L583.65 308.42L584.00 309.38L584.35 310.28L584.70 311.06L585.05 311.69L585.40 312.12L585.75 312.30L586.10 312.25L586.45 312.09L586.80 311.82L587.15 311.45L587.50 310.98L587.85 310.44L588.20 309.77L588.55 308.32L588.90 306.05L589.25 303.26L589.60 300.23L589.95 297.13L590.30 293.40L590.65 289.17L591.00 284.76L591.35 280.50L591.70 276.68L592.05 273.24L592.40 269.91L592.75 266.42L593.10 262.52L593.45 257.81L593.80 251.58L594.15 244.79L594.50 238.72L594.85 234.03L595.20 229.67L595.55 225.55L595.90 221.67L596.25 218.04L596.60 214.65L596.95 211.51L597.30 208.61L597.65 205.96L598.00 203.55L598.35 201.35L598.70 199.33L599.05 197.44L599.40 195.67L599.75 193.98L600.10 192.33L600.45 190.70L600.80 189.05L601.15 187.35L601.50 185.38L601.85 183.22L602.20 181.12L602.55 179.35L602.90 178.16L603.25 177.81L603.60 178.36L603.95 179.66L604.30 181.52L604.65 183.80L605.00 186.31L605.35 188.91L605.70 191.61L606.05 195.11L606.40 199.17L606.75 203.48L607.10 207.71L607.45 211.51L607.80 215.11L608.15 219.06L608.50 222.99L608.85 226.49L609.20 229.17L609.55 230.64L609.90 230.66L610.25 229.79L610.60 228.31L610.95 226.41L611.30 224.28L611.65 222.13L612.00 220.15L612.35 218.53L612.70 217.36L613.05 216.21L613.40 215.05L613.75 213.93L614.10 212.85L614.45 211.86L614.80 210.98L615.15 210.25L615.50 209.68L615.85 209.33L616.20 209.20L616.55 209.52L616.90 210.40L617.25 211.76L617.60 213.49L617.95 215.48L618.30 217.65L618.65 219.89L619.00 222.09L619.35 224.17L619.70 226.12L620.05 228.24L620.40 230.51L620.75 232.83L621.10 235.09L621.45 237.20L621.80 239.08L622.15 240.66L622.50 242.26L622.85 243.86L623.20 245.34L623.55 246.61L623.90 247.55L624.25 248.05L624.60 247.90L624.95 246.70L625.30 244.58L625.65 241.76L626.00 238.43L626.35 234.81L626.70 231.09L627.05 227.48L627.40 223.11L627.75 217.99L628.10 212.87L628.45 208.51L628.80 204.87L629.15 201.15L629.50 197.86L629.85 195.50L630.20 194.60L630.55 194.66L630.90 194.82L631.25 195.06L631.60 195.36L631.95 195.70L632.30 196.05L632.65 196.39L633.00 196.70L633.35 196.95L633.70 197.12L634.05 197.20L634.40 197.11L634.75 196.80L635.10 196.29L635.45 195.62L635.80 194.82L636.15 193.93L636.50 192.97L636.85 191.97L637.20 190.98L637.55 189.85L637.90 188.23L638.25 186.30L638.60 184.30L638.95 182.42L639.30 180.89L639.65 179.93L640.00 179.76L640.35 180.82L640.70 182.89L641.05 185.57L641.40 188.98L641.75 194.70L642.10 201.57L642.45 208.08L642.80 213.41L643.15 218.32L643.50 223.40L643.85 229.20L644.20 236.43L644.55 244.56L644.90 252.57L645.25 259.49L645.60 265.36L645.95 270.72L646.30 275.80L646.65 280.87L647.00 286.14L647.35 291.67L647.70 297.27L648.05 302.73L648.40 307.83L648.75 312.51L649.10 317.60L649.45 322.66L649.80 326.95L650.15 329.74L650.50 330.38L650.85 329.99L651.20 329.16L651.55 327.95L651.90 326.44L652.25 324.69L652.60 322.75L652.95 320.71L653.30 318.63L653.65 316.56L654.00 314.41L654.35 311.51L654.70 308.11L655.05 304.52L655.40 301.08L655.75 298.11L656.10 295.95L656.45 294.92L656.80 294.40L657.15 293.93L657.50 293.49L657.85 293.10L658.20 292.74L658.55 292.44L658.90 292.17L659.25 291.95L659.60 291.77L659.95 291.64L660.30 291.55L660.65 291.50L661.00 291.66L661.35 292.62L661.70 294.27L662.05 296.43L662.40 298.90L662.75 301.48L663.10 303.98L663.45 306.32L663.80 309.20L664.15 312.51L664.50 315.94L664.85 319.16L665.20 321.86L665.55 323.71L665.90 324.40L666.25 324.18L666.60 323.58L666.95 322.66L667.30 321.50L667.65 320.18L668.00 318.76L668.35 317.32L668.70 315.94L669.05 314.67L669.40 313.61L669.75 312.82L670.10 312.37L670.45 312.34L670.80 312.78L671.15 313.64L671.50 314.87L671.85 316.41L672.20 318.23L672.55 320.26L672.90 322.45L673.25 324.76L673.60 327.12L673.95 329.87L674.30 333.70L674.65 338.12L675.00 342.52L675.35 346.34L675.70 349.82L676.05 352.93L676.40 353.74L676.75 352.73L677.10 350.73L677.45 348.07L677.80 345.10L678.15 342.06L678.50 338.31L678.85 333.84L679.20 328.78L679.55 323.29L679.90 317.42L680.25 309.66L680.60 300.79L680.95 292.42L681.30 286.17L681.65 282.53L682.00 279.28L682.35 276.38L682.70 273.99L683.05 272.24L683.40 271.26L683.75 271.11L684.10 271.22L684.45 271.41L684.80 271.66L685.15 271.93L685.50 272.19L685.85 272.41L686.20 272.56L686.55 272.60L686.90 272.40L687.25 271.92L687.60 271.22L687.95 270.34L688.30 269.33L688.65 268.24L689.00 267.11L689.35 266.00L689.70 264.96L690.05 264.02L690.40 263.13L690.75 262.11L691.10 261.02L691.45 259.91L691.80 258.82L692.15 257.80L692.50 256.89L692.85 256.14L693.20 255.61L693.55 255.33L693.90 255.33L694.25 255.52L694.60 255.87L694.95 256.36L695.30 256.97L695.65 257.68L696.00 258.48L696.35 259.34L696.70 260.24L697.05 261.17L697.40 262.10L697.75 263.02L698.10 263.91L698.45 264.74L698.80 265.51L699.15 266.25L699.50 266.99L699.85 267.72L700.20 268.46L700.55 269.21L700.90 269.97L701.25 270.75L701.60 271.56L701.95 272.39L702.30 273.26L702.65 274.17L703.00 275.12L703.35 276.10L703.70 277.06L704.05 278.03L704.40 279.04L704.75 280.10L705.10 281.26L705.45 282.52L705.80 283.93L706.15 285.51L706.50 287.29L706.85 289.38L707.20 292.41L707.55 296.20L707.90 300.38L708.25 304.66L708.60 309.35L708.95 314.45L709.30 319.84L709.65 325.40L710.00 331.25L710.35 337.43L710.70 343.83L711.05 350.35L711.40 356.90L711.75 363.37L712.10 369.71L712.45 376.03L712.80 382.34L713.15 388.66L713.50 394.98L713.85 401.29L714.20 407.60L714.55 414.12L714.90 420.90L715.25 427.73L715.60 434.37L715.95 440.60L716.30 446.18L716.65 451.07L717.00 456.16L717.35 460.95L717.70 464.60L718.05 466.27L718.40 465.34L718.75 462.21L719.10 457.63L719.45 452.34L719.80 447.10L720.15 442.49L720.50 437.89L720.85 433.11L721.20 428.19L721.55 423.16L721.90 418.07L722.25 412.93L722.60 407.75L722.95 402.47L723.30 397.10L723.65 391.64L724.00 386.10L724.10 384.50" stroke="#EE3A40" stroke-width="2.7" fill="none" stroke-dasharray="3.9 6.2" stroke-linecap="round" stroke-linejoin="round"/>
<path d="M208.80 231.10L209.15 230.34L209.50 229.62L209.85 228.96L210.20 228.38L210.55 227.90L210.90 227.55L211.25 227.35L211.60 227.30L211.95 227.32L212.30 227.37L212.65 227.45L213.00 227.55L213.35 227.68L213.70 227.83L214.05 228.01L214.40 228.21L214.75 228.44L215.10 229.25L215.45 230.72L215.80 232.57L216.15 234.51L216.50 236.24L216.85 237.48L217.20 238.26L217.55 239.01L217.90 239.73L218.25 240.41L218.60 241.03L218.95 241.58L219.30 242.06L219.65 242.46L220.00 242.75L220.35 242.94L220.70 243.00L221.05 242.91L221.40 242.66L221.75 242.28L222.10 241.80L222.45 241.23L222.80 240.61L223.15 239.96L223.50 239.31L223.85 238.69L224.20 238.04L224.55 237.27L224.90 236.41L225.25 235.50L225.60 234.55L225.95 233.60L226.30 232.69L226.65 231.85L227.00 231.09L227.35 230.47L227.70 230.00L228.05 229.62L228.40 229.26L228.75 228.90L229.10 228.57L229.45 228.26L229.80 227.98L230.15 227.75L230.50 227.55L230.85 227.41L231.20 227.32L231.55 227.30L231.90 227.34L232.25 227.43L232.60 227.57L232.95 227.75L233.30 227.96L233.65 228.20L234.00 228.47L234.35 228.74L234.70 229.02L235.05 229.30L235.40 229.58L235.75 229.96L236.10 230.43L236.45 230.96L236.80 231.51L237.15 232.04L237.50 232.51L237.85 232.89L238.20 233.13L238.55 233.20L238.90 233.13L239.25 232.98L239.60 232.76L239.95 232.48L240.30 232.16L240.65 231.82L241.00 231.47L241.35 231.14L241.70 230.80L242.05 230.36L242.40 229.85L242.75 229.31L243.10 228.80L243.45 228.34L243.80 228.00L244.15 227.82L244.50 227.84L244.85 228.05L245.20 228.42L245.55 228.90L245.90 229.45L246.25 230.02L246.60 230.57L246.95 231.04L247.30 231.47L247.65 231.93L248.00 232.42L248.35 232.93L248.70 233.44L249.05 233.95L249.40 234.45L249.75 234.91L250.10 235.34L250.45 235.71L250.80 236.03L251.15 236.27L251.50 236.43L251.85 236.50L252.20 236.39L252.55 236.02L252.90 235.48L253.25 234.83L253.60 234.14L253.95 233.51L254.30 232.99L254.65 232.67L255.00 232.44L255.35 232.21L255.70 232.00L256.05 231.81L256.40 231.63L256.75 231.47L257.10 231.34L257.45 231.23L257.80 231.15L258.15 231.11L258.50 231.11L258.85 231.20L259.20 231.40L259.55 231.67L259.90 232.01L260.25 232.38L260.60 232.78L260.95 233.16L261.30 233.53L261.65 233.84L262.00 234.13L262.35 234.42L262.70 234.70L263.05 234.99L263.40 235.27L263.75 235.56L264.10 235.85L264.45 236.15L264.80 236.45L265.15 236.77L265.50 237.10L265.85 237.47L266.20 237.88L266.55 238.33L266.90 238.81L267.25 239.30L267.60 239.81L267.95 240.32L268.30 240.81L268.65 241.30L269.00 241.75L269.35 242.18L269.70 242.55L270.05 242.88L270.40 243.15L270.75 243.35L271.10 243.47L271.45 243.50L271.80 243.22L272.15 242.61L272.50 241.78L272.85 240.84L273.20 239.91L273.55 239.09L273.90 238.27L274.25 237.37L274.60 236.46L274.95 235.61L275.30 234.89L275.65 234.36L276.00 233.98L276.35 233.63L276.70 233.29L277.05 232.99L277.40 232.73L277.75 232.51L278.10 232.34L278.45 232.24L278.80 232.20L279.15 232.22L279.50 232.29L279.85 232.40L280.20 232.53L280.55 232.68L280.90 232.85L281.25 233.02L281.60 233.20L281.95 233.36L282.30 233.51L282.65 233.64L283.00 233.73L283.35 233.79L283.70 233.80L284.05 233.80L284.40 233.80L284.75 233.80L285.10 233.80L285.45 233.80L285.80 233.80L286.15 233.80L286.50 233.80L286.85 233.80L287.20 233.80L287.55 233.80L287.90 233.80L288.25 233.81L288.60 233.83L288.95 233.88L289.30 233.95L289.65 234.04L290.00 234.14L290.35 234.26L290.70 234.39L291.05 234.54L291.40 234.70L291.75 234.87L292.10 235.12L292.45 235.53L292.80 236.06L293.15 236.68L293.50 237.35L293.85 238.04L294.20 238.69L294.55 239.28L294.90 239.87L295.25 240.50L295.60 241.14L295.95 241.77L296.30 242.35L296.65 242.88L297.00 243.31L297.35 243.63L297.70 243.93L298.05 244.23L298.40 244.51L298.75 244.77L299.10 245.01L299.45 245.23L299.80 245.41L300.15 245.55L300.50 245.65L300.85 245.69L301.20 245.65L301.55 245.38L301.90 244.88L302.25 244.21L302.60 243.41L302.95 242.53L303.30 241.60L303.65 240.66L304.00 239.49L304.35 238.01L304.70 236.37L305.05 234.69L305.40 233.11L305.75 231.77L306.10 230.56L306.45 229.31L306.80 228.21L307.15 227.48L307.50 227.31L307.85 227.45L308.20 227.74L308.55 228.13L308.90 228.58L309.25 229.05L309.60 229.50L309.95 229.92L310.30 230.34L310.65 230.79L311.00 231.29L311.35 231.86L311.70 232.53L312.05 233.33L312.40 234.76L312.75 236.59L313.10 238.12L313.45 238.99L313.80 239.77L314.15 240.49L314.50 241.12L314.85 241.64L315.20 242.03L315.55 242.25L315.90 242.30L316.25 242.23L316.60 242.10L316.95 241.90L317.30 241.64L317.65 241.33L318.00 240.98L318.35 240.60L318.70 240.19L319.05 239.76L319.40 239.17L319.75 238.22L320.10 237.00L320.45 235.65L320.80 234.26L321.15 232.95L321.50 231.84L321.85 231.02L322.20 230.62L322.55 230.60L322.90 230.60L323.25 230.60L323.60 230.60L323.95 230.60L324.30 230.60L324.65 230.92L325.00 231.75L325.35 232.90L325.70 234.17L326.05 235.36L326.40 236.38L326.75 237.51L327.10 238.75L327.45 240.00L327.80 241.20L328.15 242.27L328.50 243.12L328.85 243.69L329.20 243.90L329.55 243.82L329.90 243.60L330.25 243.26L330.60 242.82L330.95 242.31L331.30 241.74L331.65 241.16L332.00 240.57L332.35 239.96L332.70 239.27L333.05 238.47L333.40 237.58L333.75 236.58L334.10 235.46L334.45 234.04L334.80 232.35L335.15 230.50L335.50 228.61L335.85 226.82L336.20 225.10L336.55 223.11L336.90 221.08L337.25 219.30L337.60 218.08L337.95 217.70L338.30 217.78L338.65 217.97L339.00 218.26L339.35 218.63L339.70 219.08L340.05 219.58L340.40 220.14L340.75 220.86L341.10 222.02L341.45 223.41L341.80 224.80L342.15 226.38L342.50 228.28L342.85 230.21L343.20 231.86L343.55 232.94L343.90 233.18L344.25 232.85L344.60 232.19L344.95 231.33L345.30 230.40L345.65 229.51L346.00 228.75L346.35 228.02L346.70 227.25L347.05 226.37L347.40 225.31L347.75 223.99L348.10 221.97L348.45 219.21L348.80 215.97L349.15 212.40L349.50 208.00L349.85 202.90L350.20 197.40L350.55 191.81L350.90 186.45L351.25 181.42L351.60 176.39L351.95 171.37L352.30 166.37L352.65 161.45L353.00 156.63L353.35 151.96L353.70 147.44L354.05 143.07L354.40 138.82L354.75 134.65L355.10 130.53L355.45 126.44L355.80 122.35L356.15 118.22L356.50 114.00L356.85 109.73L357.20 105.49L357.55 101.33L357.90 97.33L358.25 93.54L358.60 90.01L358.95 86.50L359.30 82.99L359.65 79.57L360.00 76.35L360.35 73.40L360.70 70.83L361.05 68.73L361.40 67.10L361.75 65.54L362.10 64.05L362.45 62.64L362.80 61.36L363.15 60.24L363.50 59.32L363.85 58.64L364.20 58.22L364.55 58.10L364.90 58.25L365.25 58.61L365.60 59.14L365.95 59.83L366.30 60.64L366.65 61.55L367.00 62.53L367.35 63.56L367.70 64.66L368.05 66.09L368.40 67.83L368.75 69.84L369.10 72.06L369.45 74.44L369.80 76.92L370.15 79.46L370.50 82.00L370.85 84.65L371.20 87.52L371.55 90.57L371.90 93.76L372.25 97.06L372.60 100.42L372.95 103.80L373.30 107.16L373.65 110.47L374.00 113.70L374.35 116.90L374.70 120.09L375.05 123.31L375.40 126.59L375.75 129.95L376.10 133.43L376.45 137.06L376.80 140.87L377.15 144.92L377.50 149.29L377.85 153.92L378.20 158.76L378.55 163.78L378.90 168.91L379.25 174.10L379.60 179.32L379.95 184.50L380.30 189.61L380.65 194.58L381.00 199.36L381.35 203.93L381.70 208.30L382.05 212.52L382.40 216.65L382.75 220.72L383.10 224.77L383.45 228.85L383.80 233.00L384.15 237.27L384.50 241.70L384.85 246.32L385.20 251.29L385.55 256.70L385.90 262.42L386.25 268.32L386.60 274.25L386.95 280.08L387.30 285.67L387.65 290.89L388.00 295.60L388.35 299.70L388.70 303.53L389.05 307.18L389.40 310.65L389.75 313.94L390.10 317.07L390.45 320.03L390.80 322.84L391.15 325.49L391.50 328.00L391.85 330.43L392.20 332.84L392.55 335.17L392.90 337.40L393.25 339.47L393.60 341.35L393.95 342.99L394.30 344.36L394.65 345.44L395.00 346.47L395.35 347.44L395.70 348.28L396.05 348.95L396.40 349.38L396.75 349.50L397.10 349.40L397.45 349.15L397.80 348.78L398.15 348.31L398.50 347.75L398.85 347.13L399.20 346.47L399.55 345.79L399.90 345.07L400.25 344.13L400.60 343.00L400.95 341.73L401.30 340.36L401.65 338.96L402.00 337.56L402.35 336.21L402.70 334.92L403.05 333.63L403.40 332.33L403.75 330.97L404.10 329.53L404.45 327.99L404.80 326.30L405.15 324.51L405.50 322.60L405.85 320.51L406.20 318.14L406.55 315.41L406.90 312.17L407.25 307.46L407.60 302.02L407.95 297.04L408.30 292.25L408.65 287.49L409.00 282.79L409.35 278.19L409.70 273.71L410.05 269.39L410.40 265.07L410.75 260.72L411.10 256.43L411.45 252.32L411.80 248.48L412.15 245.00L412.50 242.00L412.85 239.30L413.20 236.70L413.55 234.26L413.90 232.02L414.25 230.06L414.60 228.42L414.95 227.15L415.30 226.17L415.65 225.27L416.00 224.43L416.35 223.66L416.70 222.95L417.05 222.31L417.40 221.73L417.75 221.20L418.10 220.73L418.45 220.32L418.80 219.95L419.15 219.64L419.50 219.36L419.85 219.09L420.20 218.82L420.55 218.57L420.90 218.34L421.25 218.13L421.60 217.95L421.95 217.81L422.30 217.69L422.65 217.62L423.00 217.60L423.35 217.71L423.70 218.00L424.05 218.44L424.40 218.98L424.75 219.57L425.10 220.17L425.45 220.73L425.80 221.21L426.15 221.56L426.50 221.80L426.85 222.01L427.20 222.19L427.55 222.34L427.90 222.49L428.25 222.63L428.60 222.76L428.95 222.90L429.30 223.05L429.65 223.22L430.00 223.41L430.35 223.63L430.70 223.88L431.05 224.16L431.40 224.46L431.75 224.78L432.10 225.13L432.45 225.49L432.80 225.88L433.15 226.28L433.50 226.70L433.85 227.13L434.20 227.57L434.55 228.06L434.90 228.69L435.25 229.41L435.60 230.20L435.95 231.03L436.30 231.85L436.65 232.63L437.00 233.33L437.35 233.93L437.70 234.37L438.05 234.64L438.40 234.70L438.75 234.62L439.10 234.47L439.45 234.24L439.80 233.94L440.15 233.60L440.50 233.20L440.85 232.77L441.20 232.32L441.55 231.85L441.90 231.37L442.25 230.90L442.60 230.43L442.95 229.89L443.30 229.31L443.65 228.66L444.00 227.98L444.35 227.26L444.70 226.50L445.05 225.72L445.40 224.92L445.75 224.11L446.10 223.30L446.45 222.48L446.80 221.60L447.15 220.65L447.50 219.63L447.85 218.60L448.20 217.59L448.55 216.61L448.90 215.70L449.25 214.90L449.60 214.21L449.95 213.50L450.30 212.78L450.65 212.07L451.00 211.39L451.35 210.73L451.70 210.14L452.05 209.61L452.40 209.16L452.75 208.82L453.10 208.59L453.45 208.50L453.80 208.56L454.15 208.76L454.50 209.08L454.85 209.52L455.20 210.05L455.55 210.66L455.90 211.32L456.25 212.02L456.60 212.75L456.95 213.48L457.30 214.20L457.65 214.91L458.00 215.72L458.35 216.62L458.70 217.60L459.05 218.62L459.40 219.65L459.75 220.66L460.10 221.61L460.45 222.48L460.80 223.35L461.15 224.30L461.50 225.22L461.85 226.01L462.20 226.54L462.55 226.70L462.90 226.68L463.25 226.61L463.60 226.52L463.95 226.39L464.30 226.24L464.65 226.05L465.00 225.84L465.35 225.60L465.70 225.35L466.05 225.07L466.40 224.78L466.75 224.43L467.10 223.81L467.45 222.93L467.80 221.87L468.15 220.71L468.50 219.54L468.85 218.42L469.20 217.44L469.55 216.69L469.90 216.10L470.25 215.52L470.60 214.95L470.95 214.40L471.30 213.90L471.65 213.45L472.00 213.07L472.35 212.78L472.70 212.58L473.05 212.50L473.40 212.61L473.75 212.98L474.10 213.57L474.45 214.32L474.80 215.19L475.15 216.12L475.50 217.07L475.85 217.99L476.20 218.84L476.55 219.85L476.90 221.02L477.25 222.27L477.60 223.52L477.95 224.67L478.30 225.64L478.65 226.34L479.00 226.68L479.35 226.63L479.70 226.31L480.05 225.78L480.40 225.07L480.75 224.21L481.10 223.26L481.45 222.24L481.80 221.20L482.15 220.18L482.50 219.22L482.85 218.35L483.20 217.61L483.55 217.05L483.90 216.70L484.25 216.60L484.60 216.68L484.95 216.86L485.30 217.13L485.65 217.48L486.00 217.90L486.35 218.36L486.70 218.86L487.05 219.38L487.40 219.90L487.75 220.42L488.10 220.91L488.45 221.37L488.80 221.77L489.15 222.11L489.50 222.37L489.85 222.54L490.20 222.60L490.55 222.52L490.90 222.29L491.25 221.93L491.60 221.47L491.95 220.91L492.30 220.27L492.65 219.59L493.00 218.87L493.35 218.13L493.70 217.39L494.05 216.68L494.40 216.01L494.75 215.40L495.10 214.86L495.45 214.41L495.80 213.95L496.15 213.48L496.50 212.99L496.85 212.52L497.20 212.06L497.55 211.64L497.90 211.26L498.25 210.95L498.60 210.71L498.95 210.55L499.30 210.50L499.65 210.62L500.00 210.96L500.35 211.47L500.70 212.11L501.05 212.84L501.40 213.63L501.75 214.43L502.10 215.19L502.45 215.91L502.80 216.69L503.15 217.55L503.50 218.45L503.85 219.36L504.20 220.25L504.55 221.10L504.90 221.86L505.25 222.52L505.60 223.06L505.95 223.53L506.30 223.96L506.65 224.36L507.00 224.75L507.35 225.15L507.70 225.59L508.05 226.07L508.40 226.56L508.75 227.04L509.10 227.52L509.45 228.02L509.80 228.56L510.15 229.15L510.50 229.82L510.85 230.58L511.20 231.45L511.55 232.49L511.90 234.08L512.25 236.18L512.60 238.70L512.95 241.53L513.30 244.56L513.65 247.69L514.00 250.80L514.35 253.78L514.70 256.61L515.05 259.49L515.40 262.45L515.75 265.47L516.10 268.53L516.45 271.63L516.80 274.73L517.15 277.84L517.50 280.92L517.85 283.98L518.20 286.98L518.55 289.92L518.90 292.87L519.25 295.87L519.60 298.89L519.95 301.90L520.30 304.88L520.65 307.81L521.00 310.64L521.35 313.37L521.70 315.96L522.05 318.38L522.40 320.63L522.75 322.81L523.10 324.97L523.45 327.07L523.80 329.11L524.15 331.06L524.50 332.90L524.85 334.60L525.20 336.15L525.55 337.53L525.90 338.70L526.25 339.72L526.60 340.74L526.95 341.73L527.30 342.67L527.65 343.52L528.00 344.25L528.35 344.85L528.70 345.26L529.05 345.48L529.40 345.48L529.75 345.34L530.10 345.09L530.45 344.73L530.80 344.27L531.15 343.73L531.50 343.11L531.85 342.42L532.20 341.68L532.55 340.88L532.90 339.70L533.25 338.01L533.60 335.88L533.95 333.39L534.30 330.62L534.65 327.63L535.00 324.52L535.35 321.35L535.70 318.12L536.05 314.50L536.40 310.51L536.75 306.20L537.10 301.64L537.45 296.90L537.80 292.03L538.15 287.11L538.50 282.14L538.85 276.94L539.20 271.51L539.55 265.90L539.90 260.16L540.25 254.32L540.60 248.43L540.95 242.52L541.30 236.61L541.65 230.53L542.00 224.32L542.35 218.03L542.70 211.71L543.05 205.43L543.40 199.24L543.75 193.20L544.10 187.34L544.45 181.53L544.80 175.73L545.15 169.98L545.50 164.30L545.85 158.74L546.20 153.33L546.55 148.10L546.90 143.09L547.25 138.34L547.60 133.80L547.95 129.44L548.30 125.23L548.65 121.15L549.00 117.18L549.35 113.29L549.70 109.47L550.05 105.69L550.40 101.92L550.75 98.11L551.10 94.26L551.45 90.45L551.80 86.71L552.15 83.09L552.50 79.66L552.85 76.45L553.20 73.53L553.55 70.91L553.90 68.42L554.25 66.04L554.60 63.77L554.95 61.63L555.30 59.63L555.65 57.78L556.00 56.09L556.35 54.59L556.70 53.25L557.05 51.98L557.40 50.78L557.75 49.65L558.10 48.61L558.45 47.67L558.80 46.83L559.15 46.10L559.50 45.50L559.85 44.96L560.20 44.42L560.55 43.95L560.90 43.56L561.25 43.30L561.60 43.20L561.95 43.44L562.30 44.11L562.65 45.13L563.00 46.42L563.35 47.91L563.70 49.53L564.05 51.45L564.40 54.25L564.75 57.80L565.10 61.90L565.45 66.36L565.80 70.99L566.15 75.60L566.50 80.00L566.85 84.36L567.20 88.94L567.55 93.67L567.90 98.49L568.25 103.34L568.60 108.16L568.95 112.89L569.30 117.47L569.65 121.86L570.00 126.12L570.35 130.31L570.70 134.42L571.05 138.48L571.40 142.50L571.75 146.49L572.10 150.46L572.45 154.43L572.80 158.40L573.15 162.34L573.50 166.25L573.85 170.14L574.20 174.01L574.55 177.85L574.90 181.67L575.25 185.46L575.60 189.24L575.95 193.03L576.30 196.81L576.65 200.58L577.00 204.33L577.35 208.06L577.70 211.75L578.05 215.40L578.40 219.01L578.75 222.55L579.10 226.04L579.45 229.48L579.80 233.09L580.15 236.83L580.50 240.60L580.85 244.30L581.20 247.85L581.55 251.14L581.90 254.09L582.25 256.59L582.60 258.55L582.95 260.05L583.30 261.48L583.65 262.87L584.00 264.20L584.35 265.48L584.70 266.68L585.05 267.81L585.40 268.85L585.75 269.79L586.10 270.63L586.45 271.35L586.80 271.96L587.15 272.43L587.50 272.77L587.85 272.96L588.20 272.99L588.55 272.75L588.90 272.24L589.25 271.50L589.60 270.57L589.95 269.49L590.30 268.28L590.65 267.00L591.00 265.67L591.35 264.34L591.70 263.05L592.05 261.83L592.40 260.56L592.75 259.18L593.10 257.72L593.45 256.18L593.80 254.60L594.15 253.00L594.50 251.39L594.85 249.81L595.20 248.26L595.55 246.78L595.90 245.38L596.25 244.01L596.60 242.48L596.95 240.89L597.30 239.33L597.65 237.88L598.00 236.64L598.35 235.72L598.70 235.19L599.05 235.12L599.40 235.29L599.75 235.60L600.10 236.03L600.45 236.52L600.80 237.04L601.15 237.54L601.50 238.00L601.85 238.47L602.20 239.03L602.55 239.63L602.90 240.22L603.25 240.75L603.60 241.19L603.95 241.49L604.30 241.60L604.65 241.49L605.00 241.17L605.35 240.66L605.70 240.01L606.05 239.24L606.40 238.37L606.75 237.43L607.10 236.46L607.45 235.47L607.80 234.51L608.15 233.59L608.50 232.74L608.85 232.00L609.20 231.39L609.55 230.94L609.90 230.64L610.25 230.37L610.60 230.10L610.95 229.85L611.30 229.61L611.65 229.39L612.00 229.19L612.35 229.01L612.70 228.86L613.05 228.74L613.40 228.66L613.75 228.61L614.10 228.60L614.45 228.69L614.80 228.88L615.15 229.16L615.50 229.50L615.85 229.89L616.20 230.33L616.55 230.79L616.90 231.26L617.25 231.72L617.60 232.16L617.95 232.56L618.30 232.91L618.65 233.22L619.00 233.55L619.35 233.89L619.70 234.24L620.05 234.59L620.40 234.92L620.75 235.23L621.10 235.52L621.45 235.77L621.80 235.97L622.15 236.11L622.50 236.19L622.85 236.19L623.20 236.08L623.55 235.86L623.90 235.55L624.25 235.16L624.60 234.70L624.95 234.20L625.30 233.66L625.65 233.10L626.00 232.53L626.35 231.97L626.70 231.43L627.05 230.93L627.40 230.33L627.75 229.62L628.10 228.88L628.45 228.17L628.80 227.57L629.15 227.15L629.50 227.00L629.85 227.07L630.20 227.24L630.55 227.51L630.90 227.84L631.25 228.21L631.60 228.58L631.95 228.95L632.30 229.34L632.65 229.85L633.00 230.43L633.35 231.05L633.70 231.67L634.05 232.25L634.40 232.77L634.75 233.17L635.10 233.42L635.45 233.50L635.80 233.42L636.15 233.25L636.50 233.00L636.85 232.69L637.20 232.35L637.55 232.00L637.90 231.66L638.25 231.36L638.60 231.12L638.95 230.96L639.30 230.90L639.65 231.05L640.00 231.47L640.35 232.11L640.70 232.93L641.05 233.87L641.40 234.90L641.75 235.95L642.10 237.20L642.45 238.89L642.80 240.90L643.15 243.09L643.50 245.32L643.85 247.46L644.20 249.36L644.55 250.94L644.90 252.37L645.25 253.72L645.60 255.00L645.95 256.23L646.30 257.41L646.65 258.57L647.00 259.71L647.35 260.85L647.70 262.00L648.05 263.17L648.40 264.38L648.75 265.62L649.10 266.88L649.45 268.14L649.80 269.39L650.15 270.61L650.50 271.79L650.85 272.91L651.20 273.96L651.55 274.92L651.90 275.78L652.25 276.53L652.60 277.21L652.95 277.83L653.30 278.40L653.65 278.92L654.00 279.42L654.35 279.89L654.70 280.36L655.05 280.83L655.40 281.31L655.75 281.82L656.10 282.35L656.45 282.94L656.80 283.57L657.15 284.28L657.50 285.06L657.85 285.96L658.20 286.96L658.55 288.04L658.90 289.19L659.25 290.38L659.60 291.60L659.95 292.83L660.30 294.09L660.65 295.44L661.00 296.86L661.35 298.33L661.70 299.81L662.05 301.27L662.40 302.71L662.75 304.08L663.10 305.37L663.45 306.76L663.80 308.27L664.15 309.79L664.50 311.25L664.85 312.56L665.20 313.64L665.55 314.41L665.90 314.78L666.25 314.78L666.60 314.71L666.95 314.58L667.30 314.40L667.65 314.18L668.00 313.91L668.35 313.61L668.70 313.28L669.05 312.92L669.40 312.53L669.75 312.13L670.10 311.72L670.45 311.29L670.80 310.87L671.15 310.44L671.50 309.97L671.85 309.44L672.20 308.85L672.55 308.21L672.90 307.52L673.25 306.79L673.60 306.02L673.95 305.21L674.30 304.37L674.65 303.50L675.00 302.62L675.35 301.71L675.70 300.79L676.05 299.87L676.40 298.88L676.75 297.82L677.10 296.68L677.45 295.49L677.80 294.25L678.15 292.97L678.50 291.67L678.85 290.35L679.20 289.03L679.55 287.72L679.90 286.43L680.25 285.16L680.60 283.94L680.95 282.76L681.30 281.64L681.65 280.53L682.00 279.45L682.35 278.39L682.70 277.33L683.05 276.29L683.40 275.25L683.75 274.22L684.10 273.18L684.45 272.14L684.80 271.09L685.15 270.02L685.50 268.94L685.85 267.84L686.20 266.68L686.55 265.44L686.90 264.16L687.25 262.85L687.60 261.53L687.95 260.23L688.30 258.96L688.65 257.75L689.00 256.62L689.35 255.58L689.70 254.67L690.05 253.90L690.40 253.24L690.75 252.63L691.10 252.06L691.45 251.52L691.80 251.02L692.15 250.55L692.50 250.10L692.85 249.68L693.20 249.28L693.55 248.89L693.90 248.52L694.25 248.15L694.60 247.79L694.95 247.43L695.30 247.05L695.65 246.67L696.00 246.29L696.35 245.91L696.70 245.54L697.05 245.17L697.40 244.81L697.75 244.47L698.10 244.14L698.45 243.83L698.80 243.54L699.15 243.27L699.50 243.03L699.85 242.82L700.20 242.64L700.55 242.49L700.90 242.39L701.25 242.32L701.60 242.30L701.95 242.55L702.30 243.25L702.65 244.34L703.00 245.75L703.35 247.41L703.70 249.25L704.05 251.22L704.40 253.23L704.75 255.43L705.10 258.27L705.45 261.62L705.80 265.30L706.15 269.12L706.50 272.91L706.85 276.52L707.20 280.02L707.55 283.52L707.90 287.12L708.25 290.89L708.60 294.94L708.95 299.34L709.30 304.37L709.65 310.16L710.00 316.33L710.35 322.47L710.70 328.33L711.05 334.25L711.40 340.22L711.75 346.16L712.10 351.99L712.45 357.65L712.80 363.05L713.15 368.15L713.50 373.03L713.85 377.74L714.20 382.27L714.55 386.63L714.90 390.83L715.25 395.08L715.60 399.79L715.95 404.66L716.30 409.33L716.65 413.45L717.00 416.67L717.35 418.65L717.70 419.08L718.05 418.74L718.40 418.02L718.75 417.00L719.10 415.74L719.45 414.33L719.80 412.83L720.15 411.31L720.50 409.85L720.85 408.51L721.20 407.34L721.55 406.18L721.90 405.02L722.25 403.86L722.60 402.70L722.95 401.53L723.30 400.36L723.65 399.19L724.00 398.02L724.35 396.84L724.60 396.00" stroke="#0F62DA" stroke-width="3.1" fill="none" stroke-dasharray="0 4.75" stroke-linecap="round"/>
<path d="M167.6 405.6 H238.8" stroke="#444" stroke-width="2.7" stroke-linecap="round"/>
<path d="M167.6 444.8 H240" stroke="#EE3A40" stroke-width="2.8" stroke-dasharray="3.9 6.2" stroke-linecap="round"/>
<path d="M167.9 484.1 H237" stroke="#0F62DA" stroke-width="3.2" stroke-dasharray="0 4.75" stroke-linecap="round"/>
<text transform="translate(248.00 416.60) scale(1 1.045)" style="font-family:'Liberation Sans',Arial,Helvetica,sans-serif;font-size:32px">Original Signal</text>
<text transform="translate(248.00 455.80) scale(1 1.075)" style="font-family:'Liberation Sans',Arial,Helvetica,sans-serif;font-size:32px">SNR = 10 dB</text>
<text transform="translate(248.00 495.00) scale(1 1.075)" style="font-family:'Liberation Sans',Arial,Helvetica,sans-serif;font-size:32px">SNR = 20 dB</text>
<path d="M995.5 4.84 V523.7 M995.5 523.7 H1651" stroke="#000" stroke-width="2.1" fill="none"/>
<path d="M986.3 523.70 H995.5 M986.3 443.88 H995.5 M986.3 364.05 H995.5 M986.3 284.23 H995.5 M986.3 204.40 H995.5 M986.3 124.58 H995.5 M986.3 44.75 H995.5 M991.5 483.79 H995.5 M991.5 403.96 H995.5 M991.5 324.14 H995.5 M991.5 244.31 H995.5 M991.5 164.49 H995.5 M991.5 84.66 H995.5 M991.5 4.84 H995.5 M1060.98 523.7 V532.5 M1191.93 523.7 V532.5 M1322.89 523.7 V532.5 M1453.85 523.7 V532.5 M1584.80 523.7 V532.5 M995.50 523.7 V527.4000000000001 M1126.46 523.7 V527.4000000000001 M1257.41 523.7 V527.4000000000001 M1388.37 523.7 V527.4000000000001 M1519.32 523.7 V527.4000000000001 M1650.28 523.7 V527.4000000000001" stroke="#000" stroke-width="2.1" fill="none" stroke-linecap="round"/>
<path d="M1108.91 524.25 L1108.91 523.59 L1109.98 523.58 L1111.05 523.57 L1112.12 523.56 L1113.19 523.55 L1114.26 523.54 L1115.33 523.52 L1116.39 523.51 L1117.46 523.49 L1118.53 523.48 L1119.60 523.46 L1120.67 523.44 L1121.74 523.42 L1122.81 523.39 L1123.88 523.37 L1124.95 523.34 L1126.02 523.31 L1127.09 523.28 L1128.16 523.25 L1129.23 523.22 L1130.30 523.18 L1131.36 523.14 L1132.43 523.09 L1133.50 523.05 L1134.57 523.00 L1135.64 522.94 L1136.71 522.89 L1137.78 522.83 L1138.85 522.76 L1139.92 522.69 L1140.99 522.62 L1142.06 522.54 L1143.13 522.45 L1144.20 522.36 L1145.27 522.27 L1146.34 522.16 L1147.40 522.06 L1148.47 521.94 L1149.54 521.82 L1150.61 521.68 L1151.68 521.55 L1152.75 521.40 L1153.82 521.24 L1154.89 521.07 L1155.96 520.90 L1157.03 520.71 L1158.10 520.51 L1159.17 520.30 L1160.24 520.07 L1161.31 519.84 L1162.37 519.59 L1163.44 519.32 L1164.51 519.04 L1165.58 518.75 L1166.65 518.44 L1167.72 518.11 L1168.79 517.76 L1169.86 517.39 L1170.93 517.01 L1172.00 516.60 L1173.07 516.17 L1174.14 515.72 L1175.21 515.25 L1176.28 514.75 L1177.34 514.22 L1178.41 513.67 L1179.48 513.09 L1180.55 512.49 L1181.62 511.85 L1182.69 511.18 L1183.76 510.48 L1184.83 509.75 L1185.90 508.98 L1186.97 508.17 L1188.04 507.33 L1189.11 506.45 L1190.18 505.53 L1191.25 504.57 L1192.32 503.57 L1193.38 502.53 L1194.45 501.43 L1195.52 500.30 L1196.59 499.11 L1197.66 497.87 L1198.73 496.59 L1199.80 495.25 L1200.87 493.86 L1201.94 492.41 L1203.01 490.91 L1204.08 489.35 L1205.15 487.73 L1206.22 486.05 L1207.29 484.30 L1208.35 482.50 L1209.42 480.62 L1210.49 478.69 L1211.56 476.68 L1212.63 474.61 L1213.70 472.46 L1214.77 470.25 L1215.84 467.96 L1216.91 465.59 L1217.98 463.16 L1219.05 460.64 L1220.12 458.05 L1221.19 455.38 L1222.26 452.64 L1223.32 449.81 L1224.39 446.90 L1225.46 443.91 L1226.53 440.84 L1227.60 437.69 L1228.67 434.46 L1229.74 431.14 L1230.81 427.74 L1231.88 424.25 L1232.95 420.68 L1234.02 417.03 L1235.09 413.29 L1236.16 409.47 L1237.23 405.57 L1238.30 401.59 L1239.36 397.52 L1240.43 393.37 L1241.50 389.14 L1242.57 384.84 L1243.64 380.45 L1244.71 375.99 L1245.78 371.45 L1246.85 366.84 L1247.92 362.15 L1248.99 357.40 L1250.06 352.58 L1251.13 347.69 L1252.20 342.73 L1253.27 337.72 L1254.33 332.64 L1255.40 327.51 L1256.47 322.32 L1257.54 317.08 L1258.61 311.80 L1259.68 306.47 L1260.75 301.10 L1261.82 295.69 L1262.89 290.25 L1263.96 284.77 L1265.03 279.27 L1266.10 273.75 L1267.17 268.21 L1268.24 262.66 L1269.30 257.09 L1270.37 251.52 L1271.44 245.95 L1272.51 240.39 L1273.58 234.83 L1274.65 229.29 L1275.72 223.76 L1276.79 218.26 L1277.86 212.79 L1278.93 207.35 L1280.00 201.95 L1281.07 196.60 L1282.14 191.29 L1283.21 186.04 L1284.28 180.85 L1285.34 175.72 L1286.41 170.67 L1287.48 165.69 L1288.55 160.79 L1289.62 155.98 L1290.69 151.26 L1291.76 146.63 L1292.83 142.11 L1293.90 137.69 L1294.97 133.39 L1296.04 129.20 L1297.11 125.13 L1298.18 121.19 L1299.25 117.38 L1300.31 113.71 L1301.38 110.17 L1302.45 106.78 L1303.52 103.53 L1304.59 100.44 L1305.66 97.49 L1306.73 94.71 L1307.80 92.09 L1308.87 89.64 L1309.94 87.35 L1311.01 85.23 L1312.08 83.29 L1313.15 81.52 L1314.22 79.93 L1315.28 78.52 L1316.35 77.29 L1317.42 76.25 L1318.49 75.39 L1319.56 74.71 L1320.63 74.22 L1321.70 73.92 L1322.77 73.81 L1323.84 73.88 L1324.91 74.14 L1325.98 74.59 L1327.05 75.22 L1328.12 76.04 L1329.19 77.04 L1330.25 78.23 L1331.32 79.60 L1332.39 81.15 L1333.46 82.88 L1334.53 84.78 L1335.60 86.86 L1336.67 89.11 L1337.74 91.53 L1338.81 94.11 L1339.88 96.86 L1340.95 99.76 L1342.02 102.82 L1343.09 106.03 L1344.16 109.39 L1345.23 112.90 L1346.29 116.54 L1347.36 120.33 L1348.43 124.24 L1349.50 128.28 L1350.57 132.44 L1351.64 136.72 L1352.71 141.11 L1353.78 145.61 L1354.85 150.21 L1355.92 154.91 L1356.99 159.70 L1358.06 164.58 L1359.13 169.54 L1360.20 174.58 L1361.26 179.69 L1362.33 184.87 L1363.40 190.11 L1364.47 195.40 L1365.54 200.75 L1366.61 206.14 L1367.68 211.57 L1368.75 217.03 L1369.82 222.53 L1370.89 228.04 L1371.96 233.58 L1373.03 239.14 L1374.10 244.70 L1375.17 250.27 L1376.23 255.84 L1377.30 261.41 L1378.37 266.96 L1379.44 272.51 L1380.51 278.03 L1381.58 283.54 L1382.65 289.02 L1383.72 294.47 L1384.79 299.89 L1385.86 305.27 L1386.93 310.61 L1388.00 315.90 L1389.07 321.15 L1390.14 326.35 L1391.21 331.49 L1392.27 336.58 L1393.34 341.61 L1394.41 346.58 L1395.48 351.48 L1396.55 356.32 L1397.62 361.09 L1398.69 365.79 L1399.76 370.42 L1400.83 374.98 L1401.90 379.45 L1402.97 383.86 L1404.04 388.18 L1405.11 392.43 L1406.18 396.59 L1407.24 400.68 L1408.31 404.68 L1409.38 408.60 L1410.45 412.44 L1411.52 416.20 L1412.59 419.87 L1413.66 423.46 L1414.73 426.96 L1415.80 430.38 L1416.87 433.72 L1417.94 436.97 L1419.01 440.14 L1420.08 443.23 L1421.15 446.24 L1422.21 449.16 L1423.28 452.01 L1424.35 454.77 L1425.42 457.46 L1426.49 460.07 L1427.56 462.60 L1428.63 465.05 L1429.70 467.43 L1430.77 469.74 L1431.84 471.97 L1432.91 474.13 L1433.98 476.22 L1435.05 478.24 L1436.12 480.19 L1437.19 482.08 L1438.25 483.90 L1439.32 485.66 L1440.39 487.36 L1441.46 488.99 L1442.53 490.56 L1443.60 492.08 L1444.67 493.54 L1445.74 494.94 L1446.81 496.29 L1447.88 497.59 L1448.95 498.84 L1450.02 500.03 L1451.09 501.18 L1452.16 502.28 L1453.22 503.34 L1454.29 504.35 L1455.36 505.32 L1456.43 506.25 L1457.50 507.14 L1458.57 507.99 L1459.64 508.80 L1460.71 509.58 L1461.78 510.32 L1462.85 511.03 L1463.92 511.70 L1464.99 512.35 L1466.06 512.96 L1467.13 513.54 L1468.19 514.10 L1469.26 514.63 L1470.33 515.14 L1471.40 515.62 L1472.47 516.07 L1473.54 516.51 L1474.61 516.92 L1475.68 517.31 L1476.75 517.68 L1477.82 518.03 L1478.89 518.36 L1479.96 518.68 L1481.03 518.98 L1482.10 519.26 L1483.17 519.53 L1484.23 519.78 L1485.30 520.02 L1486.37 520.25 L1487.44 520.46 L1488.51 520.66 L1489.58 520.85 L1490.65 521.03 L1491.72 521.20 L1492.79 521.36 L1493.86 521.51 L1494.93 521.65 L1496.00 521.79 L1497.07 521.91 L1498.14 522.03 L1499.20 522.14 L1500.27 522.24 L1501.34 522.34 L1502.41 522.43 L1503.48 522.52 L1504.55 522.60 L1505.62 522.68 L1506.69 522.75 L1507.76 522.81 L1508.83 522.87 L1509.90 522.93 L1510.97 522.99 L1512.04 523.04 L1513.11 523.08 L1514.17 523.13 L1515.24 523.17 L1516.31 523.21 L1517.38 523.24 L1518.45 523.28 L1519.52 523.31 L1520.59 523.34 L1521.66 523.36 L1522.73 523.39 L1523.80 523.41 L1524.87 523.43 L1525.94 523.45 L1527.01 523.47 L1528.08 523.49 L1529.15 523.51 L1530.21 523.52 L1531.28 523.54 L1532.35 523.55 L1533.42 523.56 L1534.49 523.57 L1535.56 523.58 L1535.56 524.25 Z" fill="#00FFFF" stroke="none"/>
<path d="M1108.91 523.59 L1109.98 523.58 L1111.05 523.57 L1112.12 523.56 L1113.19 523.55 L1114.26 523.54 L1115.33 523.52 L1116.39 523.51 L1117.46 523.49 L1118.53 523.48 L1119.60 523.46 L1120.67 523.44 L1121.74 523.42 L1122.81 523.39 L1123.88 523.37 L1124.95 523.34 L1126.02 523.31 L1127.09 523.28 L1128.16 523.25 L1129.23 523.22 L1130.30 523.18 L1131.36 523.14 L1132.43 523.09 L1133.50 523.05 L1134.57 523.00 L1135.64 522.94 L1136.71 522.89 L1137.78 522.83 L1138.85 522.76 L1139.92 522.69 L1140.99 522.62 L1142.06 522.54 L1143.13 522.45 L1144.20 522.36 L1145.27 522.27 L1146.34 522.16 L1147.40 522.06 L1148.47 521.94 L1149.54 521.82 L1150.61 521.68 L1151.68 521.55 L1152.75 521.40 L1153.82 521.24 L1154.89 521.07 L1155.96 520.90 L1157.03 520.71 L1158.10 520.51 L1159.17 520.30 L1160.24 520.07 L1161.31 519.84 L1162.37 519.59 L1163.44 519.32 L1164.51 519.04 L1165.58 518.75 L1166.65 518.44 L1167.72 518.11 L1168.79 517.76 L1169.86 517.39 L1170.93 517.01 L1172.00 516.60 L1173.07 516.17 L1174.14 515.72 L1175.21 515.25 L1176.28 514.75 L1177.34 514.22 L1178.41 513.67 L1179.48 513.09 L1180.55 512.49 L1181.62 511.85 L1182.69 511.18 L1183.76 510.48 L1184.83 509.75 L1185.90 508.98 L1186.97 508.17 L1188.04 507.33 L1189.11 506.45 L1190.18 505.53 L1191.25 504.57 L1192.32 503.57 L1193.38 502.53 L1194.45 501.43 L1195.52 500.30 L1196.59 499.11 L1197.66 497.87 L1198.73 496.59 L1199.80 495.25 L1200.87 493.86 L1201.94 492.41 L1203.01 490.91 L1204.08 489.35 L1205.15 487.73 L1206.22 486.05 L1207.29 484.30 L1208.35 482.50 L1209.42 480.62 L1210.49 478.69 L1211.56 476.68 L1212.63 474.61 L1213.70 472.46 L1214.77 470.25 L1215.84 467.96 L1216.91 465.59 L1217.98 463.16 L1219.05 460.64 L1220.12 458.05 L1221.19 455.38 L1222.26 452.64 L1223.32 449.81 L1224.39 446.90 L1225.46 443.91 L1226.53 440.84 L1227.60 437.69 L1228.67 434.46 L1229.74 431.14 L1230.81 427.74 L1231.88 424.25 L1232.95 420.68 L1234.02 417.03 L1235.09 413.29 L1236.16 409.47 L1237.23 405.57 L1238.30 401.59 L1239.36 397.52 L1240.43 393.37 L1241.50 389.14 L1242.57 384.84 L1243.64 380.45 L1244.71 375.99 L1245.78 371.45 L1246.85 366.84 L1247.92 362.15 L1248.99 357.40 L1250.06 352.58 L1251.13 347.69 L1252.20 342.73 L1253.27 337.72 L1254.33 332.64 L1255.40 327.51 L1256.47 322.32 L1257.54 317.08 L1258.61 311.80 L1259.68 306.47 L1260.75 301.10 L1261.82 295.69 L1262.89 290.25 L1263.96 284.77 L1265.03 279.27 L1266.10 273.75 L1267.17 268.21 L1268.24 262.66 L1269.30 257.09 L1270.37 251.52 L1271.44 245.95 L1272.51 240.39 L1273.58 234.83 L1274.65 229.29 L1275.72 223.76 L1276.79 218.26 L1277.86 212.79 L1278.93 207.35 L1280.00 201.95 L1281.07 196.60 L1282.14 191.29 L1283.21 186.04 L1284.28 180.85 L1285.34 175.72 L1286.41 170.67 L1287.48 165.69 L1288.55 160.79 L1289.62 155.98 L1290.69 151.26 L1291.76 146.63 L1292.83 142.11 L1293.90 137.69 L1294.97 133.39 L1296.04 129.20 L1297.11 125.13 L1298.18 121.19 L1299.25 117.38 L1300.31 113.71 L1301.38 110.17 L1302.45 106.78 L1303.52 103.53 L1304.59 100.44 L1305.66 97.49 L1306.73 94.71 L1307.80 92.09 L1308.87 89.64 L1309.94 87.35 L1311.01 85.23 L1312.08 83.29 L1313.15 81.52 L1314.22 79.93 L1315.28 78.52 L1316.35 77.29 L1317.42 76.25 L1318.49 75.39 L1319.56 74.71 L1320.63 74.22 L1321.70 73.92 L1322.77 73.81 L1323.84 73.88 L1324.91 74.14 L1325.98 74.59 L1327.05 75.22 L1328.12 76.04 L1329.19 77.04 L1330.25 78.23 L1331.32 79.60 L1332.39 81.15 L1333.46 82.88 L1334.53 84.78 L1335.60 86.86 L1336.67 89.11 L1337.74 91.53 L1338.81 94.11 L1339.88 96.86 L1340.95 99.76 L1342.02 102.82 L1343.09 106.03 L1344.16 109.39 L1345.23 112.90 L1346.29 116.54 L1347.36 120.33 L1348.43 124.24 L1349.50 128.28 L1350.57 132.44 L1351.64 136.72 L1352.71 141.11 L1353.78 145.61 L1354.85 150.21 L1355.92 154.91 L1356.99 159.70 L1358.06 164.58 L1359.13 169.54 L1360.20 174.58 L1361.26 179.69 L1362.33 184.87 L1363.40 190.11 L1364.47 195.40 L1365.54 200.75 L1366.61 206.14 L1367.68 211.57 L1368.75 217.03 L1369.82 222.53 L1370.89 228.04 L1371.96 233.58 L1373.03 239.14 L1374.10 244.70 L1375.17 250.27 L1376.23 255.84 L1377.30 261.41 L1378.37 266.96 L1379.44 272.51 L1380.51 278.03 L1381.58 283.54 L1382.65 289.02 L1383.72 294.47 L1384.79 299.89 L1385.86 305.27 L1386.93 310.61 L1388.00 315.90 L1389.07 321.15 L1390.14 326.35 L1391.21 331.49 L1392.27 336.58 L1393.34 341.61 L1394.41 346.58 L1395.48 351.48 L1396.55 356.32 L1397.62 361.09 L1398.69 365.79 L1399.76 370.42 L1400.83 374.98 L1401.90 379.45 L1402.97 383.86 L1404.04 388.18 L1405.11 392.43 L1406.18 396.59 L1407.24 400.68 L1408.31 404.68 L1409.38 408.60 L1410.45 412.44 L1411.52 416.20 L1412.59 419.87 L1413.66 423.46 L1414.73 426.96 L1415.80 430.38 L1416.87 433.72 L1417.94 436.97 L1419.01 440.14 L1420.08 443.23 L1421.15 446.24 L1422.21 449.16 L1423.28 452.01 L1424.35 454.77 L1425.42 457.46 L1426.49 460.07 L1427.56 462.60 L1428.63 465.05 L1429.70 467.43 L1430.77 469.74 L1431.84 471.97 L1432.91 474.13 L1433.98 476.22 L1435.05 478.24 L1436.12 480.19 L1437.19 482.08 L1438.25 483.90 L1439.32 485.66 L1440.39 487.36 L1441.46 488.99 L1442.53 490.56 L1443.60 492.08 L1444.67 493.54 L1445.74 494.94 L1446.81 496.29 L1447.88 497.59 L1448.95 498.84 L1450.02 500.03 L1451.09 501.18 L1452.16 502.28 L1453.22 503.34 L1454.29 504.35 L1455.36 505.32 L1456.43 506.25 L1457.50 507.14 L1458.57 507.99 L1459.64 508.80 L1460.71 509.58 L1461.78 510.32 L1462.85 511.03 L1463.92 511.70 L1464.99 512.35 L1466.06 512.96 L1467.13 513.54 L1468.19 514.10 L1469.26 514.63 L1470.33 515.14 L1471.40 515.62 L1472.47 516.07 L1473.54 516.51 L1474.61 516.92 L1475.68 517.31 L1476.75 517.68 L1477.82 518.03 L1478.89 518.36 L1479.96 518.68 L1481.03 518.98 L1482.10 519.26 L1483.17 519.53 L1484.23 519.78 L1485.30 520.02 L1486.37 520.25 L1487.44 520.46 L1488.51 520.66 L1489.58 520.85 L1490.65 521.03 L1491.72 521.20 L1492.79 521.36 L1493.86 521.51 L1494.93 521.65 L1496.00 521.79 L1497.07 521.91 L1498.14 522.03 L1499.20 522.14 L1500.27 522.24 L1501.34 522.34 L1502.41 522.43 L1503.48 522.52 L1504.55 522.60 L1505.62 522.68 L1506.69 522.75 L1507.76 522.81 L1508.83 522.87 L1509.90 522.93 L1510.97 522.99 L1512.04 523.04 L1513.11 523.08 L1514.17 523.13 L1515.24 523.17 L1516.31 523.21 L1517.38 523.24 L1518.45 523.28 L1519.52 523.31 L1520.59 523.34 L1521.66 523.36 L1522.73 523.39 L1523.80 523.41 L1524.87 523.43 L1525.94 523.45 L1527.01 523.47 L1528.08 523.49 L1529.15 523.51 L1530.21 523.52 L1531.28 523.54 L1532.35 523.55 L1533.42 523.56 L1534.49 523.57 L1535.56 523.58" fill="none" stroke="#1a1a1a" stroke-width="1.1"/>
<text transform="translate(978.55 533.45) scale(1 1.11)" text-anchor="end" style="font-family:'Liberation Sans',Arial,Helvetica,sans-serif;font-size:31.2px">0.00</text>
<text transform="translate(978.55 453.63) scale(1 1.11)" text-anchor="end" style="font-family:'Liberation Sans',Arial,Helvetica,sans-serif;font-size:31.2px">0.05</text>
<text transform="translate(978.55 373.80) scale(1 1.11)" text-anchor="end" style="font-family:'Liberation Sans',Arial,Helvetica,sans-serif;font-size:31.2px">0.10</text>
<text transform="translate(978.55 293.98) scale(1 1.11)" text-anchor="end" style="font-family:'Liberation Sans',Arial,Helvetica,sans-serif;font-size:31.2px">0.15</text>
<text transform="translate(978.55 214.15) scale(1 1.11)" text-anchor="end" style="font-family:'Liberation Sans',Arial,Helvetica,sans-serif;font-size:31.2px">0.20</text>
<text transform="translate(978.55 134.33) scale(1 1.11)" text-anchor="end" style="font-family:'Liberation Sans',Arial,Helvetica,sans-serif;font-size:31.2px">0.25</text>
<text transform="translate(978.55 54.50) scale(1 1.11)" text-anchor="end" style="font-family:'Liberation Sans',Arial,Helvetica,sans-serif;font-size:31.2px">0.30</text>
<text transform="translate(1060.98 565.40) scale(1 1.07)" text-anchor="middle" style="font-family:'Liberation Sans',Arial,Helvetica,sans-serif;font-size:32px">10</text>
<text transform="translate(1191.93 565.40) scale(1 1.07)" text-anchor="middle" style="font-family:'Liberation Sans',Arial,Helvetica,sans-serif;font-size:32px">15</text>
<text transform="translate(1322.89 565.40) scale(1 1.07)" text-anchor="middle" style="font-family:'Liberation Sans',Arial,Helvetica,sans-serif;font-size:32px">20</text>
<text transform="translate(1453.85 565.40) scale(1 1.07)" text-anchor="middle" style="font-family:'Liberation Sans',Arial,Helvetica,sans-serif;font-size:32px">25</text>
<text transform="translate(1584.80 565.40) scale(1 1.07)" text-anchor="middle" style="font-family:'Liberation Sans',Arial,Helvetica,sans-serif;font-size:32px">30</text>
<text transform="translate(887.60 247.80) rotate(-90)" text-anchor="middle" style="font-family:'Liberation Sans',Arial,Helvetica,sans-serif;font-size:31.2px">Probability Density Function</text>
<text transform="translate(1322.50 614.80)" text-anchor="middle" style="font-family:'Liberation Sans',Arial,Helvetica,sans-serif;font-size:31.7px">Signal-To-Noise Ratio (dB)</text>
<text x="381.5" y="686.9" style="font-size:33px"><tspan style="font-family:'Liberation Sans',Arial,sans-serif;font-weight:bold">(a)</tspan><tspan style="font-family:'Liberation Serif','Times New Roman',serif"> noisy data</tspan></text>
<text x="1275.8" y="686.8" style="font-size:33px"><tspan style="font-family:'Liberation Sans',Arial,sans-serif;font-weight:bold">(b)</tspan><tspan style="font-family:'Liberation Serif','Times New Roman',serif"> SRN</tspan></text>
</svg>
</body></html>
